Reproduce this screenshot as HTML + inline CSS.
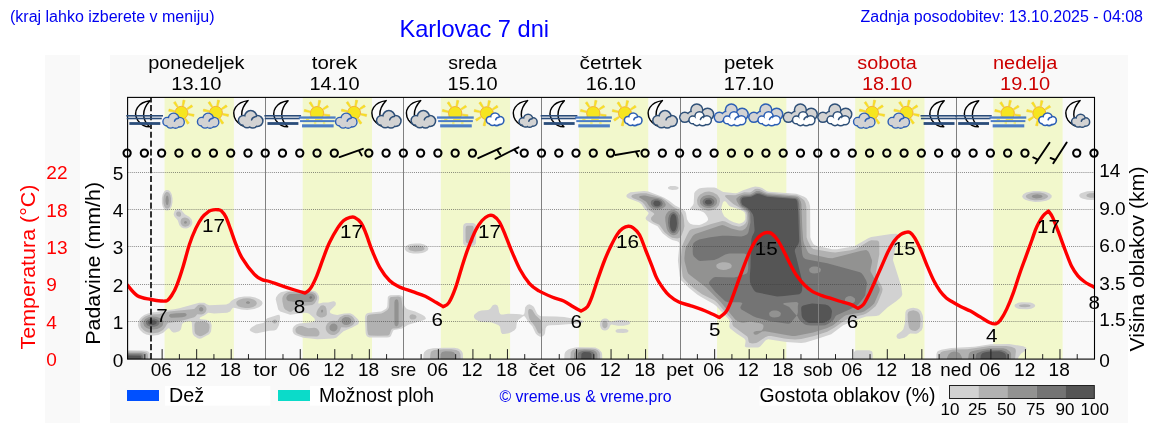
<!DOCTYPE html>
<html lang="sl"><head><meta charset="utf-8"><title>Karlovac 7 dni</title>
<style>
html,body{margin:0;padding:0;background:#fff;}
body{width:1152px;height:443px;overflow:hidden;font-family:"Liberation Sans",sans-serif;}
svg{display:block;will-change:transform;font-family:"Liberation Sans",sans-serif;}
svg text{font-family:"Liberation Sans",sans-serif;}
</style></head><body>
<svg width="1152" height="443" viewBox="0 0 1152 443">
<rect width="1152" height="443" fill="#fff"/>
<rect x="45" y="55" width="35" height="368" fill="#f9f9f9"/>
<rect x="110" y="55" width="1018" height="368" fill="#f9f9f9"/>
<rect x="164.55" y="97.4" width="69.3" height="261.70000000000005" fill="#f2f8cc"/>
<rect x="302.68" y="97.4" width="69.3" height="261.70000000000005" fill="#f2f8cc"/>
<rect x="440.81" y="97.4" width="69.3" height="261.70000000000005" fill="#f2f8cc"/>
<rect x="578.94" y="97.4" width="69.3" height="261.70000000000005" fill="#f2f8cc"/>
<rect x="717.06" y="97.4" width="69.3" height="261.70000000000005" fill="#f2f8cc"/>
<rect x="855.19" y="97.4" width="69.3" height="261.70000000000005" fill="#f2f8cc"/>
<rect x="993.32" y="97.4" width="69.3" height="261.70000000000005" fill="#f2f8cc"/>
<clipPath id="pc"><rect x="127.6" y="97.4" width="966.9" height="261.7"/></clipPath>
<g clip-path="url(#pc)">
<path d="M670.2,186.1 675.2,186.0 678.2,187.0 678.7,188.2 677.6,189.2 676.2,189.7 672.2,190.0 669.0,189.3 667.9,188.2 668.0,187.2 669.8,186.2ZM752.2,187.2 755.2,186.4 759.2,186.9 762.2,188.0 767.0,191.2 769.2,191.7 796.2,193.8 799.2,194.7 804.2,196.8 806.5,198.2 809.0,202.2 810.1,206.2 810.3,237.2 811.2,240.1 813.2,243.8 814.2,244.8 816.2,245.8 832.2,249.3 837.0,249.2 854.3,246.2 868.2,238.3 871.2,237.1 891.2,234.1 896.2,233.8 897.7,234.2 898.3,235.2 898.3,237.2 893.3,257.2 893.0,260.2 901.2,286.0 902.3,294.2 901.6,296.2 899.8,298.2 896.2,301.3 887.7,307.2 879.1,315.2 876.2,316.1 866.2,316.4 860.8,318.2 843.2,325.2 831.2,334.2 816.2,339.3 805.3,342.4 801.2,343.0 786.2,342.0 768.2,339.2 766.2,339.9 765.2,340.8 760.2,346.6 758.2,347.4 756.2,347.6 748.2,347.6 745.8,347.2 744.8,346.2 745.5,342.2 745.5,340.2 744.2,338.5 736.2,333.2 729.9,328.2 729.2,326.2 729.8,322.2 729.2,319.8 716.2,306.1 713.2,303.7 701.2,297.0 697.2,294.4 689.2,288.1 681.1,280.2 680.2,278.2 679.7,276.2 677.9,260.2 679.5,244.2 678.9,242.2 677.2,241.3 672.2,240.0 668.2,237.7 662.6,233.2 657.6,226.2 651.3,223.3 646.7,220.2 645.9,219.2 645.6,218.2 645.9,217.2 648.2,214.2 648.5,213.2 648.2,212.3 644.0,208.2 641.5,204.2 638.9,202.2 628.3,198.2 626.9,197.2 626.4,196.2 626.5,195.2 627.2,194.2 630.4,192.2 644.2,191.0 648.2,191.6 660.2,195.9 664.2,197.7 669.2,200.7 675.2,205.5 682.5,209.2 685.2,211.2 686.0,213.2 687.0,219.2 688.7,222.2 690.2,223.7 693.2,224.7 699.2,224.9 701.7,224.2 706.2,221.9 707.9,220.2 708.1,219.2 707.5,217.2 706.3,215.2 704.8,213.2 703.2,211.9 699.2,210.5 692.2,209.9 690.5,209.2 690.2,208.2 692.9,205.2 693.7,203.2 694.2,193.2 695.2,191.5 697.2,189.8 699.2,188.6 701.2,188.0 707.2,187.4 714.2,187.4 716.2,187.9 721.3,191.1 723.2,191.9 735.2,193.3 737.2,192.9 743.2,190.2 752.0,187.3ZM724.1,201.2 723.2,202.0 722.6,203.2 721.2,208.2 722.2,212.2 724.2,216.2 729.5,220.2 733.7,222.2 739.2,223.7 742.2,222.7 744.2,221.2 745.3,219.2 745.3,214.2 744.5,212.2 743.2,211.2 739.1,209.2 730.2,206.5 728.6,205.2 726.2,202.0 725.2,201.2 724.2,201.2ZM166.2,190.0 168.2,190.0 170.2,191.5 171.7,194.2 172.5,198.2 172.5,202.2 171.7,206.2 170.2,209.1 168.2,210.6 166.2,210.6 164.2,209.2 162.6,206.2 161.9,203.2 161.9,198.2 162.7,194.2 164.2,191.4 165.7,190.2ZM1033.2,191.1 1039.2,191.0 1045.2,191.8 1049.2,193.3 1051.6,195.2 1051.7,197.2 1049.7,199.2 1046.2,200.7 1040.2,201.7 1035.2,201.9 1029.2,201.0 1025.2,199.7 1023.0,198.2 1022.1,196.2 1023.3,194.2 1026.2,192.6 1032.4,191.2ZM1087.2,191.2 1093.2,190.9 1099.2,191.5 1099.2,199.5 1091.2,200.1 1087.2,199.8 1082.2,198.4 1080.2,197.4 1079.4,196.2 1079.2,195.2 1079.7,194.2 1080.9,193.2 1087.2,191.2ZM177.2,209.2 179.2,209.1 181.2,209.9 184.9,214.2 189.2,216.7 191.6,219.2 192.4,222.2 192.1,224.2 190.9,226.2 188.2,228.1 186.2,228.6 183.2,228.3 181.2,227.3 179.4,225.2 177.7,220.2 174.3,216.2 173.6,214.2 174.5,211.2 175.3,210.2 177.2,209.2ZM466.2,223.1 473.2,223.1 475.2,224.1 475.9,225.2 476.2,229.2 476.0,243.2 474.8,245.2 472.2,246.0 465.2,245.7 464.2,245.2 463.1,243.2 463.1,226.2 463.8,224.2 465.4,223.2ZM410.2,244.1 415.2,243.4 420.2,243.6 424.2,244.5 427.2,246.2 428.4,248.2 427.8,250.2 425.2,252.1 422.2,253.0 418.2,253.6 413.2,253.5 409.2,252.7 406.3,251.2 404.7,249.2 404.9,247.2 407.1,245.2 409.6,244.2ZM297.2,290.2 311.2,290.4 315.2,291.3 317.5,293.2 319.0,296.2 319.2,298.2 318.2,303.3 319.2,303.5 323.2,302.4 328.2,302.4 333.2,301.3 334.2,301.3 335.5,302.2 335.9,303.2 335.6,305.2 330.4,310.2 329.9,311.2 329.9,312.2 330.7,313.2 333.2,314.3 337.2,315.1 344.2,313.5 350.2,313.3 353.2,314.7 358.2,319.5 359.0,322.2 358.2,324.2 352.2,327.6 343.5,331.2 336.2,337.7 333.2,338.6 324.2,339.1 317.2,339.2 303.2,337.8 296.0,335.2 294.3,334.2 293.4,333.2 292.6,331.2 292.7,328.2 294.0,326.2 296.2,324.6 299.2,323.4 311.2,322.3 314.3,321.2 315.0,320.2 314.3,318.2 309.2,313.7 307.2,312.9 305.2,312.8 290.2,314.7 280.2,311.5 278.2,309.4 275.7,299.2 276.1,297.2 278.2,294.2 280.9,292.2 287.2,290.7 296.7,290.2ZM390.2,295.2 399.2,295.0 402.2,295.9 403.4,298.2 404.2,305.5 406.0,308.2 408.2,309.4 415.2,311.6 422.2,314.8 424.6,316.2 425.9,318.2 425.5,319.2 423.4,320.2 408.2,324.7 402.2,328.6 394.2,330.0 393.2,330.6 390.8,336.2 389.2,337.2 387.2,337.5 369.2,337.4 366.9,336.2 365.9,334.2 365.6,332.2 364.9,318.2 365.1,316.2 365.9,314.2 367.2,313.3 369.2,312.7 381.2,311.6 385.4,309.2 386.5,308.2 387.3,306.2 387.8,297.2 388.4,296.2 390.1,295.2ZM239.2,297.2 244.2,296.4 250.2,296.5 255.2,297.6 259.2,299.2 261.9,301.2 262.6,303.2 261.7,305.2 259.0,307.2 254.2,309.1 247.2,310.1 241.2,309.6 235.2,308.0 233.2,307.8 232.2,308.5 230.2,311.6 227.2,312.7 214.2,313.6 208.2,312.8 204.2,315.4 200.4,317.2 199.4,318.2 200.2,319.0 201.2,319.2 206.2,319.7 209.2,321.0 210.7,322.2 211.7,325.2 211.1,331.2 210.2,333.1 209.1,334.2 201.2,338.6 199.2,338.7 197.2,338.0 194.2,336.0 192.9,334.2 192.4,332.2 191.8,322.2 191.2,321.2 190.2,321.0 188.0,321.2 184.3,322.3 182.7,323.2 182.1,324.2 181.0,329.2 179.2,331.2 175.2,332.4 173.2,332.4 171.5,331.2 169.2,328.3 168.2,328.2 163.2,332.7 158.2,334.9 152.2,335.7 146.2,334.4 143.2,332.9 140.2,330.3 138.9,328.2 137.9,325.2 138.2,322.2 139.5,319.2 141.2,317.2 144.2,315.0 147.2,313.7 151.2,312.6 157.2,312.1 162.2,310.8 174.2,309.2 179.3,308.2 199.2,302.8 204.2,302.8 207.2,304.6 209.3,305.2 226.2,304.5 229.2,303.3 231.2,301.0 233.8,299.2 238.9,297.2ZM1022.2,302.2 1030.2,302.5 1032.7,303.2 1034.4,304.2 1035.1,305.2 1035.1,306.2 1034.2,307.3 1031.2,308.7 1027.2,309.3 1019.2,308.9 1017.0,308.2 1015.2,307.2 1014.6,306.2 1014.5,305.2 1015.2,304.2 1018.2,302.8 1021.3,302.2ZM493.2,304.9 495.2,304.5 497.3,305.2 498.3,307.2 499.2,312.3 500.2,314.0 501.2,314.5 503.2,314.6 508.2,313.8 516.2,313.9 519.7,314.2 523.2,315.1 524.5,313.2 525.2,307.2 527.2,304.9 529.2,304.3 531.2,305.0 533.2,306.3 534.2,307.5 536.9,313.2 538.2,314.8 540.2,316.0 542.2,316.3 556.2,316.4 564.2,317.0 582.2,320.2 583.5,321.2 583.3,322.2 580.5,323.2 558.2,325.0 550.2,325.2 548.2,325.5 546.8,326.2 545.6,328.2 545.0,333.2 544.1,335.2 542.2,336.6 540.2,336.7 539.2,336.3 537.2,335.0 535.6,333.2 532.3,326.2 528.6,322.2 525.2,317.0 524.2,316.1 523.2,316.3 518.2,319.9 517.2,321.2 516.7,323.2 516.2,328.1 514.5,330.2 511.2,332.3 508.7,333.2 504.2,334.1 502.2,333.9 501.0,332.2 500.1,327.2 499.6,326.2 498.2,324.9 491.2,322.3 482.2,322.1 479.2,321.6 475.2,319.3 473.9,317.2 474.0,315.2 474.7,314.2 478.2,311.4 481.2,310.5 488.2,310.1 490.2,308.8 492.7,305.2ZM910.2,308.2 913.2,307.8 917.2,308.5 919.2,309.4 921.0,311.2 922.7,315.2 923.1,317.2 922.8,327.2 921.7,330.2 918.2,333.1 916.2,333.8 910.2,333.5 908.8,334.2 906.8,336.2 904.2,337.8 899.2,338.9 897.2,338.3 896.4,336.2 897.3,334.2 901.5,331.2 903.3,329.2 904.9,323.2 905.4,312.2 906.2,310.5 907.2,309.5 910.2,308.2ZM277.2,315.0 279.2,314.8 279.6,315.2 280.1,317.2 279.9,320.2 278.9,325.2 277.4,328.2 276.2,329.8 274.2,330.5 269.2,330.8 257.2,333.2 255.2,333.2 253.2,332.6 250.7,331.2 249.8,330.2 249.8,329.2 251.8,327.2 256.2,324.6 263.2,323.0 264.4,322.2 266.0,319.2 267.3,318.2 276.7,315.2ZM602.2,319.2 604.2,318.4 606.2,318.5 607.7,319.2 610.2,321.6 611.2,321.8 614.2,320.7 619.2,319.9 623.2,319.9 628.2,320.8 630.1,322.2 630.2,323.2 629.4,324.2 627.2,325.1 623.2,325.8 618.2,325.8 611.2,324.4 610.2,325.5 609.0,328.2 607.2,330.0 605.2,330.6 603.2,330.3 602.2,329.8 600.9,328.2 599.9,325.2 600.0,323.2 600.6,321.2 602.2,319.2ZM617.2,329.2 621.2,328.7 626.2,329.0 628.3,330.2 628.5,331.2 627.2,332.5 623.2,333.1 617.2,332.7 616.2,332.2 615.5,331.2 615.7,330.2 617.1,329.2ZM991.2,344.2 1009.2,344.0 1023.2,346.2 1025.5,347.2 1026.4,348.2 1026.5,349.2 1026.0,350.2 1021.2,353.6 1018.5,357.2 1017.6,360.2 1017.0,365.2 971.2,365.2 936.2,365.2 936.4,354.2 937.2,351.7 938.2,350.9 941.2,349.7 951.2,348.0 974.2,346.8 990.8,344.2ZM580.2,347.2 595.2,347.5 599.0,349.2 601.6,352.2 602.1,354.2 602.5,365.2 586.2,365.2 563.9,365.2 564.5,354.2 565.1,352.2 566.0,351.2 568.2,349.6 570.2,348.7 575.2,347.6 580.1,347.2ZM433.2,348.2 444.2,347.7 454.2,347.8 458.2,348.5 460.2,349.7 461.8,351.2 462.8,353.2 463.4,365.2 453.2,365.2 422.9,365.2 423.5,354.2 424.1,352.2 426.2,350.2 428.1,349.2 433.1,348.2ZM857.2,350.2 869.2,350.2 871.9,351.2 872.4,352.3 872.7,354.2 872.7,365.2 869.2,365.2 853.7,365.2 854.0,352.2 855.2,350.7 856.9,350.2ZM121.2,350.3 142.2,350.4 146.2,350.7 148.2,351.4 149.8,353.2 150.1,355.2 150.1,362.2 149.1,365.2 120.2,365.2 120.3,350.3Z" fill="#d2d2d2" fill-rule="evenodd"/>
<path d="M755.2,188.9 757.2,188.7 759.2,189.0 761.2,189.7 765.6,192.2 768.2,193.0 797.2,195.5 799.2,196.4 804.2,200.2 805.6,203.2 806.4,207.2 806.6,237.2 807.6,240.2 811.1,247.2 813.3,249.1 830.2,252.1 835.2,252.5 850.7,250.2 854.8,249.2 858.9,247.2 868.6,241.2 871.2,240.3 877.2,240.4 878.6,241.2 879.2,242.8 879.3,254.2 876.2,271.2 875.9,274.2 877.2,278.2 881.7,286.2 882.6,289.2 882.0,292.2 877.9,302.2 875.5,306.2 869.2,311.5 866.2,313.6 863.2,314.7 851.9,317.2 849.0,318.2 842.1,322.2 834.2,327.8 827.2,331.7 814.2,335.9 801.2,339.1 795.2,339.5 788.2,339.0 784.2,338.6 771.2,336.1 768.2,335.9 765.2,337.2 758.2,342.0 756.2,343.0 752.2,343.4 749.2,342.7 748.5,341.2 748.1,338.2 747.2,336.6 733.3,326.2 732.3,324.2 732.2,321.2 731.4,319.2 717.2,302.7 714.2,300.3 702.1,294.2 693.9,288.2 690.2,285.3 685.1,280.2 683.4,278.2 682.6,276.2 680.7,260.2 681.7,249.2 682.5,245.2 683.7,242.2 686.9,235.2 689.2,231.0 690.2,230.1 692.2,229.1 701.2,227.3 711.2,223.9 722.2,221.0 725.2,221.6 732.2,224.9 738.2,226.5 740.2,226.6 743.4,225.2 745.2,223.8 746.6,221.2 746.9,215.2 746.3,212.2 744.1,210.2 733.2,204.0 725.7,197.2 725.1,196.2 725.2,195.6 725.4,195.2 727.2,194.9 735.2,195.3 744.2,192.2 750.2,192.4 752.2,191.3 754.7,189.2ZM166.2,192.1 167.2,191.9 168.2,192.2 169.2,193.1 170.4,195.2 171.0,198.2 171.0,202.2 170.4,205.2 169.5,207.2 168.2,208.5 166.2,208.6 165.2,207.8 164.2,206.1 163.5,203.2 163.3,200.2 163.7,196.2 165.0,193.2 166.1,192.2ZM704.2,192.2 706.2,191.7 709.2,191.5 713.2,192.4 717.2,194.8 719.6,198.2 720.0,201.2 718.9,205.2 716.2,208.3 714.2,209.5 711.9,210.2 708.2,210.7 704.2,209.8 699.6,207.2 697.5,204.2 697.0,200.2 697.9,197.2 700.2,194.4 704.2,192.2ZM641.2,193.2 646.2,193.2 661.2,197.6 665.5,200.3 673.2,206.7 679.6,210.2 681.6,212.2 683.1,215.2 683.9,219.2 684.4,226.2 683.5,230.2 681.6,235.2 680.2,237.5 679.2,238.1 677.2,238.4 672.2,237.7 669.2,236.1 664.6,232.2 659.2,224.7 653.2,222.0 651.4,220.2 651.0,219.3 651.2,217.5 654.3,214.2 653.9,213.2 647.2,208.7 644.2,204.2 642.3,202.2 640.2,201.0 633.3,198.2 631.9,197.2 631.3,196.2 632.2,195.0 635.2,194.0 640.8,193.2ZM1031.2,193.1 1035.2,192.5 1040.2,192.6 1044.2,193.5 1047.2,194.9 1048.2,196.2 1047.2,197.8 1044.3,199.2 1041.2,200.0 1037.2,200.3 1034.2,200.2 1030.2,199.4 1027.3,198.2 1026.1,197.2 1025.8,196.2 1026.3,195.2 1027.8,194.2 1030.7,193.2ZM1090.2,193.2 1094.2,193.1 1099.2,193.7 1099.2,197.3 1096.2,197.7 1090.2,197.8 1087.2,196.8 1086.6,196.2 1086.4,195.2 1087.1,194.2 1089.7,193.2ZM177.2,211.8 179.2,211.6 180.2,212.1 181.0,213.2 181.1,215.2 180.2,216.4 179.2,216.8 177.4,216.2 176.4,215.2 176.1,213.3 176.7,212.2ZM182.2,218.2 184.2,217.5 186.2,217.7 188.2,218.5 189.2,219.4 190.2,221.2 190.2,223.2 189.2,225.1 188.2,226.0 185.2,226.8 183.2,226.3 181.9,225.2 180.7,223.2 180.6,221.2 181.2,219.2 182.2,218.2ZM467.2,225.8 472.2,225.8 473.1,226.2 473.6,227.2 473.8,240.2 473.4,242.2 472.3,243.3 467.2,243.3 466.0,242.2 465.6,240.2 465.5,229.2 465.8,227.2 466.3,226.2ZM411.2,246.2 414.2,245.6 418.2,245.6 421.2,246.0 423.2,246.8 424.6,248.2 424.4,249.2 423.3,250.2 421.2,251.0 415.2,251.4 410.3,250.5 408.6,249.2 408.4,248.2 409.0,247.2 410.9,246.2ZM288.2,292.1 298.2,291.7 311.2,291.8 313.2,292.2 315.2,293.2 316.7,295.2 317.3,297.2 317.0,299.2 315.2,302.4 314.2,303.7 312.2,304.9 305.2,305.8 302.2,306.3 296.2,308.0 291.2,311.8 289.2,311.8 285.2,309.4 284.2,308.2 283.4,306.2 282.4,301.2 282.3,298.2 282.9,296.2 284.4,294.2 286.2,292.9 287.8,292.2ZM391.2,297.0 398.2,296.6 400.2,297.1 401.4,298.2 402.9,310.2 402.8,325.2 401.2,326.9 399.2,327.7 397.2,328.3 393.2,328.4 392.2,328.8 391.0,330.2 389.7,334.2 388.2,335.5 378.2,335.7 370.2,335.6 369.0,335.2 368.0,334.2 367.3,330.2 366.8,319.2 367.1,316.2 368.2,315.0 370.2,314.5 381.2,313.5 383.2,312.8 387.1,310.2 388.2,309.0 389.1,307.2 389.4,299.2 389.7,298.2 390.5,297.2ZM247.2,298.2 250.2,298.5 254.2,299.8 256.1,301.2 256.9,303.2 256.0,305.2 253.2,306.9 249.2,307.9 245.2,308.0 241.2,307.3 238.2,306.2 236.4,304.2 236.3,302.2 237.2,300.9 239.2,299.7 243.2,298.6 246.9,298.2ZM1024.2,304.2 1028.2,304.4 1030.4,305.2 1030.4,306.2 1029.2,306.8 1025.2,307.2 1021.2,307.0 1019.2,306.2 1019.1,305.2 1020.2,304.7 1024.2,304.2ZM198.2,305.1 200.2,304.4 203.2,304.7 205.2,306.0 206.1,307.2 206.6,309.2 206.0,311.2 205.2,312.4 203.2,313.9 201.2,314.5 197.2,314.3 195.6,316.2 194.2,317.2 179.2,321.4 168.2,323.0 167.2,323.7 165.2,327.3 163.2,329.7 161.2,331.1 158.2,332.4 153.2,333.2 148.2,332.5 145.2,331.2 143.2,329.8 141.2,327.4 140.4,325.2 140.4,322.2 141.2,320.2 142.8,318.2 145.2,316.4 148.2,315.2 151.2,314.4 159.2,314.3 162.2,312.9 169.2,311.5 194.2,309.1 197.9,305.2ZM321.2,305.6 323.2,305.3 325.3,306.2 326.3,308.2 326.8,311.2 326.9,314.2 326.5,315.2 325.2,316.5 322.2,317.6 320.3,317.4 318.2,316.6 316.6,315.2 316.3,314.2 316.6,312.2 317.9,309.2 320.3,306.2ZM529.2,309.1 530.2,308.9 532.2,309.8 535.6,315.2 540.2,319.5 541.5,321.2 542.3,330.2 541.9,332.2 541.2,333.3 540.2,333.6 539.2,333.4 537.8,332.2 534.9,326.2 529.5,319.2 528.7,316.2 528.1,312.3 528.3,310.2 529.0,309.2ZM910.2,310.9 913.2,310.3 916.2,310.9 918.2,312.0 919.7,314.2 920.6,319.2 920.1,326.2 919.4,328.2 917.2,330.2 915.2,331.0 912.2,330.5 910.1,329.2 908.9,327.2 907.9,321.2 907.6,314.2 908.2,312.2 909.4,311.2ZM412.2,314.2 415.2,314.9 416.5,316.2 416.2,318.2 414.2,319.6 411.2,319.5 409.7,318.2 409.5,316.2 410.2,315.1 412.0,314.2ZM344.2,315.1 348.2,314.8 351.2,315.8 353.0,317.2 354.4,319.2 354.8,320.2 354.7,322.2 353.5,324.2 352.4,325.2 349.2,327.0 346.2,327.6 341.2,327.3 339.5,331.2 338.2,332.7 336.2,334.2 334.2,334.9 332.2,334.9 330.2,334.4 328.2,333.2 326.6,331.2 325.8,329.2 325.7,327.2 326.3,325.2 327.5,323.2 330.2,321.4 333.2,320.7 337.2,321.0 339.9,317.2 343.7,315.2ZM273.2,320.1 275.2,319.6 276.4,320.2 276.8,321.2 276.7,322.2 275.7,323.2 274.2,323.5 273.2,323.0 272.6,322.2 272.5,321.2 273.0,320.2ZM603.2,321.2 604.2,320.7 606.2,321.0 607.6,323.2 607.4,326.2 606.2,327.8 605.3,328.2 604.2,328.2 603.2,327.6 602.4,326.2 602.2,323.2 603.2,321.2ZM196.2,322.0 204.2,321.4 207.2,322.4 209.2,324.2 209.6,327.2 208.8,331.2 208.1,332.2 205.2,334.2 202.2,335.8 200.2,336.3 197.2,335.3 195.2,333.5 194.6,331.2 194.4,325.2 194.7,323.2 195.6,322.2ZM299.2,326.0 302.2,326.1 308.2,328.2 314.2,327.8 316.5,328.2 318.2,329.7 319.5,332.2 319.4,334.2 318.9,335.2 317.2,336.4 305.2,336.2 301.5,335.2 297.2,333.4 296.0,332.2 295.6,331.2 295.4,329.2 296.2,327.7 298.4,326.2ZM989.2,346.1 1006.2,345.9 1011.2,346.8 1014.8,348.2 1015.6,349.2 1015.9,351.2 1014.4,365.2 964.2,365.2 939.2,365.2 939.7,354.2 940.9,352.2 943.2,351.3 953.2,349.4 967.2,349.2 988.3,346.2ZM444.2,349.2 451.2,349.2 456.2,349.9 459.2,351.6 460.5,354.2 460.7,365.2 446.2,365.2 429.6,365.2 430.4,354.2 430.9,352.2 431.6,351.2 434.2,350.1 443.6,349.2ZM575.2,349.1 580.2,348.4 591.2,348.4 595.2,348.9 597.8,350.2 599.5,352.2 600.1,354.2 600.3,365.2 595.2,365.2 569.9,365.2 570.8,352.2 572.4,350.2 574.6,349.2ZM121.2,351.5 141.2,351.6 144.2,351.9 146.2,352.6 147.2,353.2 147.8,354.2 148.1,358.2 147.9,362.2 146.2,364.9 145.9,365.2 120.2,365.2 120.2,351.5Z" fill="#b1b1b1" fill-rule="evenodd"/>
<path d="M756.2,191.1 759.2,191.1 767.2,194.3 795.2,196.6 797.2,197.0 799.0,198.2 800.7,201.2 801.4,204.2 802.3,228.2 803.2,240.2 804.2,244.0 807.0,250.2 808.2,252.4 810.2,254.0 828.2,257.9 832.2,258.3 861.2,250.8 866.2,250.1 868.2,251.2 869.4,253.2 872.0,260.2 872.0,262.2 870.5,269.2 870.5,271.2 879.6,288.2 879.7,290.2 879.2,291.9 874.2,303.5 870.2,307.2 864.2,311.5 861.2,312.5 849.2,314.4 846.0,315.2 844.1,316.2 833.0,325.2 827.2,327.9 817.2,331.3 813.2,332.4 795.2,336.0 792.2,336.0 786.2,335.0 765.2,331.2 762.2,331.5 757.2,334.6 755.2,334.8 754.2,334.3 753.5,333.2 753.6,332.2 754.2,331.7 756.2,331.1 761.2,330.7 762.2,330.1 763.2,328.2 763.5,326.2 763.3,325.2 762.5,324.2 760.2,323.3 751.2,321.7 749.2,321.7 743.2,322.7 741.2,322.6 738.3,321.5 735.2,319.5 720.8,302.2 706.2,287.5 690.2,275.3 688.2,273.4 687.2,271.2 684.6,261.2 684.4,258.2 684.9,252.2 685.9,247.2 692.2,236.8 693.5,235.2 695.2,233.9 718.0,226.2 722.2,225.1 724.2,225.5 731.2,228.6 739.2,230.6 742.2,230.4 745.2,228.8 747.0,226.2 748.3,222.2 748.6,218.2 748.3,213.2 747.4,211.2 746.4,210.2 741.2,207.2 739.2,205.2 736.8,201.2 736.3,199.2 736.6,198.2 739.1,196.2 741.2,195.2 744.2,194.4 750.2,194.4 752.2,193.6 756.0,191.2ZM722.2,262.2 719.2,262.9 716.9,264.2 716.3,265.3 716.5,267.2 718.2,268.7 720.2,269.4 723.2,269.9 726.2,269.7 730.5,268.2 731.5,267.2 731.7,265.2 730.2,263.6 728.2,262.7 725.2,262.2 722.2,262.2ZM706.2,195.2 709.2,195.0 713.2,196.1 716.0,198.2 717.0,200.2 716.9,203.2 715.6,205.2 713.2,207.0 710.2,208.0 707.2,208.1 704.2,207.3 701.4,205.2 700.1,203.2 700.0,200.2 701.0,198.2 703.2,196.3 706.2,195.2ZM1033.2,195.0 1037.2,194.3 1041.2,195.1 1042.6,196.2 1042.1,197.2 1040.2,198.1 1036.2,198.4 1033.2,197.7 1032.2,197.2 1031.7,196.2 1032.7,195.2ZM167.2,195.6 168.2,196.6 168.8,200.2 168.3,204.2 167.2,205.3 166.1,204.2 165.5,201.2 165.7,198.2 166.3,196.2ZM640.2,196.0 643.2,195.5 645.2,195.6 651.2,197.0 658.2,198.0 661.2,199.1 664.0,201.2 665.8,204.2 665.4,206.2 662.6,208.2 659.2,209.6 657.2,209.8 654.2,209.5 652.2,208.7 649.2,206.3 646.2,201.7 639.0,197.2 639.6,196.2ZM671.2,210.2 674.2,210.0 676.2,210.9 678.0,212.2 679.9,215.2 680.7,219.2 680.8,226.2 679.6,230.2 677.2,234.0 675.2,235.1 673.7,235.2 672.2,235.1 670.2,234.0 667.8,231.2 666.6,228.2 665.4,221.2 665.2,217.2 666.1,214.2 668.2,211.6 671.0,210.2ZM185.2,221.0 186.4,221.2 187.0,222.2 186.7,223.2 185.2,223.8 184.2,223.2 184.0,222.2 184.7,221.2ZM290.2,294.1 310.2,293.5 312.2,293.8 314.3,295.2 315.1,297.2 315.0,298.2 313.2,300.9 311.2,301.9 295.2,301.9 288.2,300.9 287.2,300.3 286.5,299.2 286.4,297.2 287.6,295.2 289.3,294.2ZM396.2,299.2 397.2,299.4 398.1,300.2 398.6,303.2 398.6,323.2 398.1,325.2 396.7,326.2 396.0,326.2 394.8,325.2 394.4,323.2 394.4,302.2 394.9,300.2 396.2,299.3ZM247.3,301.2 248.6,301.2 250.1,302.2 249.9,303.2 248.2,303.9 246.1,303.2 245.9,302.2 247.2,301.2ZM201.2,307.1 202.2,307.4 203.1,308.2 203.4,309.3 203.2,310.2 202.3,311.2 201.2,311.5 200.1,311.2 199.1,310.2 199.2,308.2 200.3,307.2ZM321.2,310.2 322.2,309.6 322.9,310.2 323.1,311.2 322.2,312.8 321.2,312.2 321.2,310.2ZM177.2,313.2 184.2,313.0 185.6,313.2 186.6,314.2 186.6,315.2 185.2,316.5 182.2,317.2 178.2,317.4 171.2,317.7 170.0,317.2 169.1,316.2 169.0,315.2 170.2,313.9 176.4,313.2ZM149.2,317.0 153.2,316.5 156.2,316.8 160.5,318.2 162.7,320.2 163.4,322.2 162.8,325.2 161.0,327.2 157.2,329.0 153.2,329.6 149.2,329.0 146.2,327.8 144.2,325.9 143.3,323.2 143.6,321.2 145.2,319.1 148.6,317.2ZM345.2,317.0 348.5,317.2 350.2,318.2 351.2,319.8 351.5,321.2 351.3,322.3 350.2,323.7 348.2,324.8 346.2,325.1 344.2,324.7 342.3,323.2 341.7,322.2 341.6,320.2 342.0,319.2 342.8,318.2 344.6,317.2ZM331.2,324.2 332.2,323.7 334.2,323.6 335.9,324.2 336.9,325.2 337.4,326.2 337.5,328.2 336.4,330.2 335.2,331.1 334.2,331.5 332.2,331.3 330.5,330.2 329.8,329.2 329.5,328.2 329.6,326.2 331.2,324.2ZM989.2,348.2 1003.2,348.3 1006.2,349.1 1009.2,350.9 1010.5,352.2 1011.1,354.2 1011.1,365.2 988.2,365.2 967.2,365.2 968.8,354.2 970.0,352.2 972.2,351.2 976.3,350.2 988.6,348.2ZM578.2,350.1 584.2,349.6 590.2,349.7 593.8,350.2 596.2,351.7 597.4,354.2 597.5,365.2 593.2,365.2 573.6,365.2 574.2,353.2 575.5,351.2 577.8,350.2ZM442.2,351.9 445.2,351.3 451.2,351.4 453.8,352.2 454.8,353.2 455.4,355.2 455.4,365.2 453.2,365.2 440.1,365.2 440.7,354.2 441.7,352.2ZM951.2,352.2 954.2,351.5 957.2,351.9 959.6,353.2 960.9,355.2 961.8,357.2 962.3,360.2 961.9,365.2 958.2,365.2 947.1,365.2 946.7,361.2 947.2,357.2 948.7,354.2 951.1,352.2ZM121.2,352.9 140.2,352.9 143.2,353.5 144.3,354.2 144.8,355.2 145.1,359.2 144.9,362.2 143.2,364.6 142.3,365.2 120.2,365.2 120.2,352.9Z" fill="#929291" fill-rule="evenodd"/>
<path d="M756.3,192.9 759.2,192.8 767.2,195.6 795.3,197.9 797.2,198.7 798.3,200.2 799.2,204.2 800.8,239.2 802.0,252.2 802.5,255.2 803.2,257.3 805.2,259.0 807.2,259.6 827.2,263.2 860.0,272.2 861.6,273.2 863.2,275.3 866.2,280.4 867.0,283.2 865.2,295.2 863.3,298.2 858.2,304.4 855.8,306.2 850.0,309.2 836.6,315.2 835.5,316.2 833.9,319.2 832.2,321.2 827.5,324.2 825.2,325.2 821.2,325.6 811.2,325.6 806.2,325.1 804.2,324.0 800.2,320.8 799.0,319.2 797.2,315.8 796.2,315.6 796.2,316.2 791.2,322.3 790.2,323.2 788.2,323.8 770.2,321.3 756.2,317.5 753.3,316.2 741.0,309.2 740.3,307.2 742.4,303.2 741.2,302.5 739.2,302.2 728.2,302.3 725.2,301.3 715.2,291.8 710.2,285.6 709.0,283.2 709.2,281.9 710.5,280.2 713.2,277.7 715.2,276.9 734.2,277.5 738.2,276.5 746.2,273.7 747.5,272.2 748.2,268.2 748.2,258.2 747.2,255.1 746.2,254.2 744.2,253.5 729.2,253.4 725.2,254.6 718.5,258.2 714.2,260.0 700.2,261.1 698.1,260.2 693.7,256.2 692.9,254.3 692.7,251.2 692.8,245.2 693.4,243.2 695.7,241.2 699.2,239.5 710.2,237.2 722.2,235.8 728.2,235.7 741.2,236.5 744.2,235.8 747.2,234.2 748.4,232.2 750.5,222.2 750.3,214.2 749.7,212.2 748.2,210.2 746.2,208.6 742.2,206.4 741.1,205.2 739.8,202.2 739.6,199.2 740.8,197.2 742.2,196.5 744.2,196.0 750.2,195.8 753.2,194.7 755.6,193.2ZM811.1,267.2 809.7,268.2 809.1,269.2 809.4,271.2 810.2,272.2 812.2,273.2 814.2,273.6 818.2,273.1 819.7,272.2 820.6,271.2 820.9,269.2 820.2,268.2 818.2,266.9 816.2,266.5 813.3,266.5 811.2,267.1ZM848.2,296.2 846.2,297.2 845.4,298.3 844.9,299.2 845.1,301.2 846.2,302.8 848.2,303.8 850.2,304.0 852.2,303.6 854.2,302.3 854.9,301.2 855.1,299.2 854.7,298.2 852.2,296.4 850.2,296.0 848.2,296.2ZM791.7,302.2 784.2,303.0 783.5,303.2 783.3,304.2 789.2,306.9 793.6,312.2 796.3,315.2 797.2,314.9 797.9,312.2 797.8,306.2 798.4,303.2 797.2,302.3 796.2,302.1 792.2,302.2ZM771.1,311.2 769.7,312.2 769.1,313.2 769.4,315.2 770.2,316.2 772.2,317.2 774.2,317.6 778.3,317.1 779.7,316.2 780.6,315.2 780.9,313.2 780.2,312.2 778.2,310.9 776.2,310.5 773.2,310.5 771.2,311.1ZM706.2,198.0 709.2,197.7 711.2,198.1 713.1,199.2 714.0,200.2 714.4,201.2 714.1,203.2 713.2,204.4 711.2,205.7 709.2,206.2 707.2,206.1 705.2,205.5 703.6,204.2 702.9,203.2 702.6,201.2 703.9,199.2 705.5,198.2ZM655.2,199.2 657.3,199.2 660.3,200.2 661.6,201.2 662.7,203.2 662.3,205.2 661.4,206.2 658.2,207.7 656.2,207.8 654.0,207.2 652.4,206.2 651.0,204.2 650.8,202.2 651.2,201.1 652.2,200.1 654.6,199.2ZM673.2,212.1 675.2,212.7 677.4,215.2 678.4,219.2 678.6,223.2 678.2,227.2 677.2,230.2 675.2,232.7 673.2,233.3 671.2,232.4 669.7,230.2 668.5,226.2 668.0,222.2 668.3,218.2 669.2,215.2 670.7,213.2 672.6,212.2ZM310.3,296.2 311.3,296.2 312.2,297.2 311.2,298.7 310.2,298.7 309.5,298.2 309.3,297.2 310.2,296.2ZM149.2,319.1 152.2,318.5 154.2,318.6 156.6,319.2 158.3,320.2 159.2,321.2 159.5,323.2 158.2,325.2 156.2,326.3 154.2,326.7 151.2,326.7 149.2,326.3 147.2,325.2 146.2,323.8 146.0,322.2 147.2,320.3 149.0,319.2ZM346.2,320.6 347.0,321.2 346.2,321.5 346.0,321.2ZM987.2,350.2 1001.2,350.1 1005.0,351.2 1007.6,353.2 1008.4,356.2 1008.5,365.2 996.2,365.2 975.2,365.2 975.8,356.2 976.3,354.2 977.0,353.2 982.0,351.2 987.0,350.2ZM582.2,351.1 586.2,350.8 590.2,351.1 593.2,352.2 594.1,353.2 594.6,355.2 594.7,365.2 589.2,365.2 577.2,365.2 577.3,360.2 578.1,353.2 578.9,352.2 581.5,351.2ZM121.2,354.3 138.2,354.3 141.2,354.6 142.4,355.2 142.9,356.2 143.1,359.2 142.8,362.2 141.2,363.7 138.2,364.1 120.2,364.1 120.3,354.3Z" fill="#747474" fill-rule="evenodd"/>
<path d="M757.2,194.0 760.0,194.2 767.2,196.8 795.2,199.1 796.2,199.6 797.3,201.2 798.2,212.1 799.2,241.2 798.3,244.2 795.0,249.2 794.8,251.2 802.5,282.2 802.1,290.2 801.2,292.8 799.2,294.2 784.2,296.1 777.2,296.6 756.2,292.2 754.8,291.2 753.3,289.2 751.1,285.2 750.0,282.2 749.8,276.2 750.5,267.2 750.8,247.2 751.4,239.2 752.2,236.2 754.2,232.2 754.6,230.2 753.6,217.2 752.8,214.2 749.9,210.2 748.2,208.6 742.2,204.8 741.3,202.2 741.2,200.2 741.9,198.2 743.2,197.6 751.2,196.8 756.3,194.2ZM706.2,200.1 709.2,199.6 711.2,200.5 712.1,202.2 711.7,203.2 710.2,204.3 707.2,204.5 705.3,203.2 704.9,202.2 705.1,201.2 706.0,200.2ZM655.2,200.8 658.2,200.8 660.4,202.2 660.6,204.2 660.0,205.2 658.1,206.2 655.8,206.2 654.0,205.2 653.2,203.2 654.3,201.2ZM673.2,214.0 674.2,214.1 675.2,215.0 676.2,217.1 677.0,223.2 676.7,226.2 675.9,229.2 674.5,231.2 673.2,231.6 672.2,231.2 671.0,229.2 670.2,226.9 669.9,223.2 670.3,218.2 671.2,215.6 672.5,214.2ZM808.2,304.2 812.2,303.6 825.2,304.5 828.2,305.6 830.1,307.2 831.4,309.2 832.0,311.2 831.2,317.2 830.2,319.0 829.2,319.9 824.2,322.7 821.2,323.0 809.2,322.9 807.2,322.2 803.4,319.2 802.1,317.2 801.6,315.2 801.2,309.2 801.3,307.2 802.0,306.2 803.2,305.5 808.1,304.2ZM151.2,320.2 154.2,320.3 156.0,321.2 156.7,322.2 156.6,323.2 155.6,324.2 153.2,325.0 150.2,324.7 149.2,324.2 148.3,323.2 148.2,322.2 148.9,321.2 151.2,320.2ZM584.2,352.1 589.5,352.2 591.0,353.2 591.5,354.2 591.7,365.2 588.2,365.2 580.8,365.2 581.4,354.2 581.8,353.2 583.3,352.2ZM985.2,352.2 990.2,351.4 999.2,351.3 1002.2,351.9 1004.7,353.2 1005.6,354.2 1006.3,356.2 1006.4,365.2 1001.2,365.2 979.8,365.2 980.8,355.2 982.3,353.2 985.0,352.2ZM121.2,355.5 140.2,355.8 141.2,356.4 141.6,359.2 141.5,361.2 140.9,362.2 140.2,362.6 120.2,362.8 120.2,355.5Z" fill="#555555" fill-rule="evenodd"/>
</g>
<line x1="127.6" x2="1094.5" y1="321.5" y2="321.5" stroke="#3a3a3a" stroke-width="1" stroke-dasharray="1 1.06" opacity="0.58"/>
<line x1="127.6" x2="1094.5" y1="284.5" y2="284.5" stroke="#3a3a3a" stroke-width="1" stroke-dasharray="1 1.06" opacity="0.58"/>
<line x1="127.6" x2="1094.5" y1="246.5" y2="246.5" stroke="#3a3a3a" stroke-width="1" stroke-dasharray="1 1.06" opacity="0.58"/>
<line x1="127.6" x2="1094.5" y1="209.5" y2="209.5" stroke="#3a3a3a" stroke-width="1" stroke-dasharray="1 1.06" opacity="0.58"/>
<line x1="127.6" x2="1094.5" y1="172.5" y2="172.5" stroke="#3a3a3a" stroke-width="1" stroke-dasharray="1 1.06" opacity="0.58"/>
<line x1="265.50" x2="265.50" y1="97.4" y2="359.1" stroke="#808080" stroke-width="1"/>
<line x1="403.50" x2="403.50" y1="97.4" y2="359.1" stroke="#808080" stroke-width="1"/>
<line x1="541.50" x2="541.50" y1="97.4" y2="359.1" stroke="#808080" stroke-width="1"/>
<line x1="680.50" x2="680.50" y1="97.4" y2="359.1" stroke="#808080" stroke-width="1"/>
<line x1="818.50" x2="818.50" y1="97.4" y2="359.1" stroke="#808080" stroke-width="1"/>
<line x1="956.50" x2="956.50" y1="97.4" y2="359.1" stroke="#808080" stroke-width="1"/>
<line x1="151" x2="151" y1="359.1" y2="97.4" stroke="#111" stroke-width="1.7" stroke-dasharray="6.2 2.65"/>
<path d="M127.0,284.6C128.7,286.5 133.4,293.2 137.4,295.7C141.4,298.2 147.1,298.6 151.0,299.5C154.9,300.4 158.3,300.9 161.0,301.0C163.7,301.1 165.6,301.4 167.4,300.4C169.2,299.3 170.5,297.2 172.1,294.7C173.7,292.2 175.0,290.0 176.8,285.3C178.7,280.6 181.1,273.2 183.2,266.3C185.3,259.4 187.4,250.5 189.5,244.2C191.6,237.9 193.7,232.9 195.8,228.4C197.9,223.9 200.0,220.2 202.1,217.4C204.2,214.6 206.6,213.0 208.4,211.7C210.2,210.4 211.5,210.1 213.2,209.8C214.9,209.5 217.1,209.6 218.5,209.8C219.9,210.0 220.2,209.8 221.5,211.0C222.8,212.2 224.5,214.2 226.0,217.3C227.5,220.4 228.9,224.8 230.6,229.4C232.3,234.0 234.3,240.3 236.2,245.0C238.1,249.7 239.0,252.9 242.0,257.8C245.0,262.7 250.8,270.6 254.2,274.2C257.6,277.8 259.6,278.4 262.1,279.6C264.7,280.8 266.2,280.4 269.5,281.5C272.8,282.6 277.9,284.5 282.1,285.9C286.3,287.3 290.9,288.8 294.7,290.0C298.5,291.2 303.4,292.6 305.2,293.1C306.1,292.3 308.6,291.3 310.5,288.4C312.4,285.5 314.7,280.8 316.8,275.8C318.9,270.8 321.1,263.9 323.2,258.4C325.3,252.9 327.1,247.6 329.5,242.6C331.9,237.6 335.0,232.1 337.4,228.4C339.8,224.7 341.6,222.3 343.7,220.5C345.8,218.7 348.2,217.9 350.0,217.4C351.8,216.9 352.9,216.5 354.7,217.4C356.5,218.3 359.1,220.1 361.0,222.7C362.9,225.3 363.9,228.6 365.8,233.2C367.7,237.8 369.7,244.7 372.1,250.5C374.5,256.3 377.1,262.9 380.0,267.9C382.9,272.9 386.4,277.4 389.5,280.5C392.6,283.6 395.0,284.9 398.9,286.8C402.8,288.7 408.2,290.0 412.6,291.6C417.0,293.2 421.4,294.5 425.3,296.3C429.2,298.1 433.3,300.9 436.3,302.6C439.3,304.3 442.1,306.0 443.3,306.7C444.2,306.0 446.9,305.7 448.9,302.6C450.9,299.6 453.2,294.2 455.3,288.4C457.4,282.6 459.5,274.5 461.6,267.9C463.7,261.3 465.5,255.2 467.9,248.9C470.3,242.6 473.4,234.7 475.8,230.0C478.2,225.3 480.0,222.9 482.1,220.5C484.2,218.1 486.5,216.6 488.4,215.8C490.2,215.0 491.3,214.8 493.2,215.8C495.1,216.9 497.4,218.7 499.5,222.1C501.6,225.5 503.7,231.3 505.8,236.3C507.9,241.3 509.7,246.6 512.1,252.1C514.5,257.6 517.1,264.2 520.0,269.5C522.9,274.8 526.4,280.1 529.5,283.7C532.6,287.3 535.0,288.6 538.9,290.9C542.8,293.2 548.5,295.6 552.6,297.3C556.7,299.0 560.3,299.4 563.7,301.0C567.1,302.6 570.3,305.0 573.2,306.7C576.1,308.4 579.7,310.4 581.0,311.1C582.1,310.4 585.5,309.2 587.4,306.7C589.2,304.2 590.3,301.2 592.1,296.3C593.9,291.4 596.3,283.4 598.4,277.4C600.5,271.3 602.6,265.3 604.7,260.0C606.8,254.7 608.9,250.1 611.0,245.8C613.1,241.5 615.4,237.0 617.4,234.1C619.4,231.2 620.9,229.7 622.7,228.4C624.5,227.1 626.6,226.3 628.4,226.2C630.1,226.1 631.4,226.4 633.2,227.8C635.1,229.2 637.4,230.9 639.5,234.7C641.6,238.5 643.7,245.2 645.8,250.5C647.9,255.8 650.3,261.7 652.1,266.3C653.9,270.9 654.9,274.6 656.8,278.3C658.6,282.0 661.1,285.5 663.2,288.4C665.3,291.3 666.9,293.4 669.5,295.7C672.1,298.0 675.3,300.3 678.9,302.0C682.5,303.7 687.1,304.5 691.0,305.8C694.9,307.1 698.7,308.3 702.1,309.6C705.5,310.9 708.7,312.4 711.6,313.7C714.5,315.0 718.2,316.9 719.5,317.5C720.5,316.6 724.0,314.6 725.8,312.1C727.6,309.6 728.7,307.1 730.5,302.6C732.3,298.1 734.7,291.1 736.8,285.3C738.9,279.5 741.1,273.4 743.2,267.9C745.3,262.4 747.4,256.7 749.5,252.1C751.6,247.5 753.8,243.3 755.8,240.4C757.8,237.5 759.7,236.0 761.5,234.7C763.3,233.4 765.1,232.7 766.8,232.5C768.5,232.3 769.8,232.2 771.6,233.5C773.5,234.8 775.8,237.3 777.9,240.4C780.0,243.5 782.1,248.1 784.2,252.1C786.3,256.1 788.4,260.8 790.5,264.7C792.6,268.6 794.4,272.4 796.8,275.8C799.2,279.2 802.1,282.7 804.7,285.3C807.3,287.9 809.7,289.9 812.6,291.6C815.5,293.3 819.3,294.6 822.1,295.7C824.9,296.8 826.7,297.0 829.5,297.9C832.3,298.8 835.5,299.9 838.9,301.0C842.3,302.1 846.8,303.0 850.0,304.2C853.2,305.4 856.6,307.6 857.9,308.3C858.9,307.6 861.8,306.5 863.6,304.2C865.4,301.9 867.0,298.6 868.9,294.7C870.8,290.8 873.2,285.2 875.3,280.5C877.4,275.8 879.5,271.0 881.6,266.3C883.7,261.6 885.8,256.3 887.9,252.1C890.0,247.9 892.1,243.9 894.2,241.0C896.3,238.1 898.6,236.1 900.5,234.7C902.4,233.3 903.7,232.9 905.3,232.5C906.9,232.1 908.4,231.6 910.0,232.5C911.6,233.4 912.9,234.9 914.7,237.9C916.5,240.9 918.9,245.8 921.0,250.5C923.1,255.2 925.3,261.3 927.4,266.3C929.5,271.3 931.6,276.4 933.7,280.5C935.8,284.6 937.9,288.0 940.0,290.9C942.1,293.8 944.2,296.0 946.3,297.9C948.4,299.8 950.1,300.5 952.6,302.0C955.1,303.5 958.0,305.2 961.0,306.7C964.0,308.2 967.3,309.4 970.5,311.1C973.7,312.8 976.8,314.9 980.0,316.8C983.2,318.7 986.9,321.3 989.5,322.5C992.1,323.7 994.0,324.2 995.8,323.8C997.6,323.4 998.7,322.5 1000.5,320.0C1002.3,317.5 1004.7,313.4 1006.8,308.9C1008.9,304.4 1011.1,298.9 1013.2,293.1C1015.3,287.3 1017.4,280.2 1019.5,274.2C1021.6,268.1 1023.7,262.6 1025.8,256.8C1027.9,251.0 1030.3,244.5 1032.1,239.5C1033.9,234.5 1034.9,230.8 1036.8,226.8C1038.7,222.9 1041.2,218.4 1043.2,215.8C1045.2,213.2 1047.6,211.9 1048.5,211.1C1049.2,212.2 1050.9,213.7 1052.6,217.4C1054.3,221.1 1056.8,227.7 1058.9,233.2C1061.0,238.7 1063.2,245.0 1065.3,250.5C1067.4,256.0 1069.5,262.1 1071.6,266.3C1073.7,270.5 1075.8,273.3 1077.9,275.8C1080.0,278.3 1082.1,279.9 1084.2,281.5C1086.3,283.1 1088.7,284.3 1090.5,285.3C1092.3,286.3 1094.2,287.3 1095.0,287.7" fill="none" stroke="#ff0000" stroke-width="3.4" stroke-linejoin="round" stroke-linecap="butt" clip-path="url(#pc)"/>
<text x="162.00" y="321.60" font-size="18.06" text-anchor="middle" fill="#000" textLength="11.49" lengthAdjust="spacingAndGlyphs" >7</text>
<text x="213.50" y="231.90" font-size="18.06" text-anchor="middle" fill="#000" textLength="22.98" lengthAdjust="spacingAndGlyphs" >17</text>
<text x="299.50" y="313.30" font-size="18.06" text-anchor="middle" fill="#000" textLength="11.49" lengthAdjust="spacingAndGlyphs" >8</text>
<text x="351.60" y="238.40" font-size="18.06" text-anchor="middle" fill="#000" textLength="22.98" lengthAdjust="spacingAndGlyphs" >17</text>
<text x="437.30" y="325.90" font-size="18.06" text-anchor="middle" fill="#000" textLength="11.49" lengthAdjust="spacingAndGlyphs" >6</text>
<text x="489.40" y="237.50" font-size="18.06" text-anchor="middle" fill="#000" textLength="22.98" lengthAdjust="spacingAndGlyphs" >17</text>
<text x="576.30" y="328.40" font-size="18.06" text-anchor="middle" fill="#000" textLength="11.49" lengthAdjust="spacingAndGlyphs" >6</text>
<text x="627.50" y="247.60" font-size="18.06" text-anchor="middle" fill="#000" textLength="22.98" lengthAdjust="spacingAndGlyphs" >16</text>
<text x="714.70" y="335.90" font-size="18.06" text-anchor="middle" fill="#000" textLength="11.49" lengthAdjust="spacingAndGlyphs" >5</text>
<text x="766.20" y="254.80" font-size="18.06" text-anchor="middle" fill="#000" textLength="22.98" lengthAdjust="spacingAndGlyphs" >15</text>
<text x="852.50" y="327.50" font-size="18.06" text-anchor="middle" fill="#000" textLength="11.49" lengthAdjust="spacingAndGlyphs" >6</text>
<text x="904.30" y="254.80" font-size="18.06" text-anchor="middle" fill="#000" textLength="22.98" lengthAdjust="spacingAndGlyphs" >15</text>
<text x="991.70" y="342.30" font-size="18.06" text-anchor="middle" fill="#000" textLength="11.49" lengthAdjust="spacingAndGlyphs" >4</text>
<text x="1048.50" y="233.40" font-size="18.06" text-anchor="middle" fill="#000" textLength="22.98" lengthAdjust="spacingAndGlyphs" >17</text>
<text x="1094.30" y="309.20" font-size="18.06" text-anchor="middle" fill="#000" textLength="11.49" lengthAdjust="spacingAndGlyphs" >8</text>
<line x1="144.87" x2="144.87" y1="359.1" y2="354.1" stroke="#222" stroke-width="1"/>
<line x1="162.13" x2="162.13" y1="359.1" y2="349.1" stroke="#222" stroke-width="1"/>
<line x1="179.40" x2="179.40" y1="359.1" y2="354.1" stroke="#222" stroke-width="1"/>
<line x1="196.66" x2="196.66" y1="359.1" y2="349.1" stroke="#222" stroke-width="1"/>
<line x1="213.93" x2="213.93" y1="359.1" y2="354.1" stroke="#222" stroke-width="1"/>
<line x1="231.20" x2="231.20" y1="359.1" y2="349.1" stroke="#222" stroke-width="1"/>
<line x1="248.46" x2="248.46" y1="359.1" y2="354.1" stroke="#222" stroke-width="1"/>
<line x1="282.99" x2="282.99" y1="359.1" y2="354.1" stroke="#222" stroke-width="1"/>
<line x1="300.26" x2="300.26" y1="359.1" y2="349.1" stroke="#222" stroke-width="1"/>
<line x1="317.53" x2="317.53" y1="359.1" y2="354.1" stroke="#222" stroke-width="1"/>
<line x1="334.79" x2="334.79" y1="359.1" y2="349.1" stroke="#222" stroke-width="1"/>
<line x1="352.06" x2="352.06" y1="359.1" y2="354.1" stroke="#222" stroke-width="1"/>
<line x1="369.33" x2="369.33" y1="359.1" y2="349.1" stroke="#222" stroke-width="1"/>
<line x1="386.59" x2="386.59" y1="359.1" y2="354.1" stroke="#222" stroke-width="1"/>
<line x1="421.12" x2="421.12" y1="359.1" y2="354.1" stroke="#222" stroke-width="1"/>
<line x1="438.39" x2="438.39" y1="359.1" y2="349.1" stroke="#222" stroke-width="1"/>
<line x1="455.66" x2="455.66" y1="359.1" y2="354.1" stroke="#222" stroke-width="1"/>
<line x1="472.92" x2="472.92" y1="359.1" y2="349.1" stroke="#222" stroke-width="1"/>
<line x1="490.19" x2="490.19" y1="359.1" y2="354.1" stroke="#222" stroke-width="1"/>
<line x1="507.45" x2="507.45" y1="359.1" y2="349.1" stroke="#222" stroke-width="1"/>
<line x1="524.72" x2="524.72" y1="359.1" y2="354.1" stroke="#222" stroke-width="1"/>
<line x1="559.25" x2="559.25" y1="359.1" y2="354.1" stroke="#222" stroke-width="1"/>
<line x1="576.52" x2="576.52" y1="359.1" y2="349.1" stroke="#222" stroke-width="1"/>
<line x1="593.78" x2="593.78" y1="359.1" y2="354.1" stroke="#222" stroke-width="1"/>
<line x1="611.05" x2="611.05" y1="359.1" y2="349.1" stroke="#222" stroke-width="1"/>
<line x1="628.32" x2="628.32" y1="359.1" y2="354.1" stroke="#222" stroke-width="1"/>
<line x1="645.58" x2="645.58" y1="359.1" y2="349.1" stroke="#222" stroke-width="1"/>
<line x1="662.85" x2="662.85" y1="359.1" y2="354.1" stroke="#222" stroke-width="1"/>
<line x1="697.38" x2="697.38" y1="359.1" y2="354.1" stroke="#222" stroke-width="1"/>
<line x1="714.65" x2="714.65" y1="359.1" y2="349.1" stroke="#222" stroke-width="1"/>
<line x1="731.91" x2="731.91" y1="359.1" y2="354.1" stroke="#222" stroke-width="1"/>
<line x1="749.18" x2="749.18" y1="359.1" y2="349.1" stroke="#222" stroke-width="1"/>
<line x1="766.44" x2="766.44" y1="359.1" y2="354.1" stroke="#222" stroke-width="1"/>
<line x1="783.71" x2="783.71" y1="359.1" y2="349.1" stroke="#222" stroke-width="1"/>
<line x1="800.98" x2="800.98" y1="359.1" y2="354.1" stroke="#222" stroke-width="1"/>
<line x1="835.51" x2="835.51" y1="359.1" y2="354.1" stroke="#222" stroke-width="1"/>
<line x1="852.78" x2="852.78" y1="359.1" y2="349.1" stroke="#222" stroke-width="1"/>
<line x1="870.04" x2="870.04" y1="359.1" y2="354.1" stroke="#222" stroke-width="1"/>
<line x1="887.31" x2="887.31" y1="359.1" y2="349.1" stroke="#222" stroke-width="1"/>
<line x1="904.57" x2="904.57" y1="359.1" y2="354.1" stroke="#222" stroke-width="1"/>
<line x1="921.84" x2="921.84" y1="359.1" y2="349.1" stroke="#222" stroke-width="1"/>
<line x1="939.11" x2="939.11" y1="359.1" y2="354.1" stroke="#222" stroke-width="1"/>
<line x1="973.64" x2="973.64" y1="359.1" y2="354.1" stroke="#222" stroke-width="1"/>
<line x1="990.90" x2="990.90" y1="359.1" y2="349.1" stroke="#222" stroke-width="1"/>
<line x1="1008.17" x2="1008.17" y1="359.1" y2="354.1" stroke="#222" stroke-width="1"/>
<line x1="1025.44" x2="1025.44" y1="359.1" y2="349.1" stroke="#222" stroke-width="1"/>
<line x1="1042.70" x2="1042.70" y1="359.1" y2="354.1" stroke="#222" stroke-width="1"/>
<line x1="1059.97" x2="1059.97" y1="359.1" y2="349.1" stroke="#222" stroke-width="1"/>
<line x1="1077.23" x2="1077.23" y1="359.1" y2="354.1" stroke="#222" stroke-width="1"/>
<rect x="127.6" y="97.4" width="966.9" height="261.70000000000005" fill="none" stroke="#000" stroke-width="1.1"/>
<text x="161.33" y="376.40" font-size="17.67" text-anchor="middle" fill="#000" textLength="21.21" lengthAdjust="spacingAndGlyphs" >06</text>
<text x="195.86" y="376.40" font-size="17.67" text-anchor="middle" fill="#000" textLength="21.21" lengthAdjust="spacingAndGlyphs" >12</text>
<text x="230.40" y="376.40" font-size="17.67" text-anchor="middle" fill="#000" textLength="21.21" lengthAdjust="spacingAndGlyphs" >18</text>
<text x="299.46" y="376.40" font-size="17.67" text-anchor="middle" fill="#000" textLength="21.21" lengthAdjust="spacingAndGlyphs" >06</text>
<text x="333.99" y="376.40" font-size="17.67" text-anchor="middle" fill="#000" textLength="21.21" lengthAdjust="spacingAndGlyphs" >12</text>
<text x="368.52" y="376.40" font-size="17.67" text-anchor="middle" fill="#000" textLength="21.21" lengthAdjust="spacingAndGlyphs" >18</text>
<text x="265.43" y="376.40" font-size="17.67" text-anchor="middle" fill="#000" textLength="23.59" lengthAdjust="spacingAndGlyphs" >tor</text>
<text x="437.59" y="376.40" font-size="17.67" text-anchor="middle" fill="#000" textLength="21.21" lengthAdjust="spacingAndGlyphs" >06</text>
<text x="472.12" y="376.40" font-size="17.67" text-anchor="middle" fill="#000" textLength="21.21" lengthAdjust="spacingAndGlyphs" >12</text>
<text x="506.65" y="376.40" font-size="17.67" text-anchor="middle" fill="#000" textLength="21.21" lengthAdjust="spacingAndGlyphs" >18</text>
<text x="403.56" y="376.40" font-size="17.67" text-anchor="middle" fill="#000" textLength="25.43" lengthAdjust="spacingAndGlyphs" >sre</text>
<text x="575.72" y="376.40" font-size="17.67" text-anchor="middle" fill="#000" textLength="21.21" lengthAdjust="spacingAndGlyphs" >06</text>
<text x="610.25" y="376.40" font-size="17.67" text-anchor="middle" fill="#000" textLength="21.21" lengthAdjust="spacingAndGlyphs" >12</text>
<text x="644.78" y="376.40" font-size="17.67" text-anchor="middle" fill="#000" textLength="21.21" lengthAdjust="spacingAndGlyphs" >18</text>
<text x="541.69" y="376.40" font-size="17.67" text-anchor="middle" fill="#000" textLength="25.96" lengthAdjust="spacingAndGlyphs" >čet</text>
<text x="713.85" y="376.40" font-size="17.67" text-anchor="middle" fill="#000" textLength="21.21" lengthAdjust="spacingAndGlyphs" >06</text>
<text x="748.38" y="376.40" font-size="17.67" text-anchor="middle" fill="#000" textLength="21.21" lengthAdjust="spacingAndGlyphs" >12</text>
<text x="782.91" y="376.40" font-size="17.67" text-anchor="middle" fill="#000" textLength="21.21" lengthAdjust="spacingAndGlyphs" >18</text>
<text x="679.81" y="376.40" font-size="17.67" text-anchor="middle" fill="#000" textLength="27.37" lengthAdjust="spacingAndGlyphs" >pet</text>
<text x="851.98" y="376.40" font-size="17.67" text-anchor="middle" fill="#000" textLength="21.21" lengthAdjust="spacingAndGlyphs" >06</text>
<text x="886.51" y="376.40" font-size="17.67" text-anchor="middle" fill="#000" textLength="21.21" lengthAdjust="spacingAndGlyphs" >12</text>
<text x="921.04" y="376.40" font-size="17.67" text-anchor="middle" fill="#000" textLength="21.21" lengthAdjust="spacingAndGlyphs" >18</text>
<text x="817.94" y="376.40" font-size="17.67" text-anchor="middle" fill="#000" textLength="29.47" lengthAdjust="spacingAndGlyphs" >sob</text>
<text x="990.10" y="376.40" font-size="17.67" text-anchor="middle" fill="#000" textLength="21.21" lengthAdjust="spacingAndGlyphs" >06</text>
<text x="1024.64" y="376.40" font-size="17.67" text-anchor="middle" fill="#000" textLength="21.21" lengthAdjust="spacingAndGlyphs" >12</text>
<text x="1059.17" y="376.40" font-size="17.67" text-anchor="middle" fill="#000" textLength="21.21" lengthAdjust="spacingAndGlyphs" >18</text>
<text x="956.07" y="376.40" font-size="17.67" text-anchor="middle" fill="#000" textLength="31.40" lengthAdjust="spacingAndGlyphs" >ned</text>
<text x="123.30" y="366.50" font-size="17.67" text-anchor="end" fill="#000" textLength="10.61" lengthAdjust="spacingAndGlyphs" >0</text>
<text x="1099.20" y="366.60" font-size="17.67" text-anchor="start" fill="#000" textLength="10.61" lengthAdjust="spacingAndGlyphs" >0</text>
<text x="123.30" y="329.11" font-size="17.67" text-anchor="end" fill="#000" textLength="10.61" lengthAdjust="spacingAndGlyphs" >1</text>
<text x="1099.20" y="326.01" font-size="17.67" text-anchor="start" fill="#000" textLength="26.51" lengthAdjust="spacingAndGlyphs" >1.5</text>
<text x="123.30" y="291.73" font-size="17.67" text-anchor="end" fill="#000" textLength="10.61" lengthAdjust="spacingAndGlyphs" >2</text>
<text x="1099.20" y="289.63" font-size="17.67" text-anchor="start" fill="#000" textLength="26.51" lengthAdjust="spacingAndGlyphs" >3.5</text>
<text x="123.30" y="254.34" font-size="17.67" text-anchor="end" fill="#000" textLength="10.61" lengthAdjust="spacingAndGlyphs" >3</text>
<text x="1099.20" y="252.24" font-size="17.67" text-anchor="start" fill="#000" textLength="26.51" lengthAdjust="spacingAndGlyphs" >6.0</text>
<text x="123.30" y="216.96" font-size="17.67" text-anchor="end" fill="#000" textLength="10.61" lengthAdjust="spacingAndGlyphs" >4</text>
<text x="1099.20" y="214.86" font-size="17.67" text-anchor="start" fill="#000" textLength="26.51" lengthAdjust="spacingAndGlyphs" >9.0</text>
<text x="123.30" y="179.57" font-size="17.67" text-anchor="end" fill="#000" textLength="10.61" lengthAdjust="spacingAndGlyphs" >5</text>
<text x="1099.20" y="177.47" font-size="17.67" text-anchor="start" fill="#000" textLength="21.21" lengthAdjust="spacingAndGlyphs" >14</text>
<text x="46.30" y="366.20" font-size="17.67" text-anchor="start" fill="#f00" textLength="10.61" lengthAdjust="spacingAndGlyphs" >0</text>
<text x="46.30" y="328.81" font-size="17.67" text-anchor="start" fill="#f00" textLength="10.61" lengthAdjust="spacingAndGlyphs" >4</text>
<text x="46.30" y="291.43" font-size="17.67" text-anchor="start" fill="#f00" textLength="10.61" lengthAdjust="spacingAndGlyphs" >9</text>
<text x="46.30" y="254.04" font-size="17.67" text-anchor="start" fill="#f00" textLength="21.21" lengthAdjust="spacingAndGlyphs" >13</text>
<text x="46.30" y="216.66" font-size="17.67" text-anchor="start" fill="#f00" textLength="21.21" lengthAdjust="spacingAndGlyphs" >18</text>
<text x="46.30" y="179.27" font-size="17.67" text-anchor="start" fill="#f00" textLength="21.21" lengthAdjust="spacingAndGlyphs" >22</text>
<text x="100.00" y="263.30" font-size="19.93" text-anchor="middle" fill="#000" textLength="162.75" lengthAdjust="spacingAndGlyphs" transform="rotate(-90 100.00 263.30)" >Padavine (mm/h)</text>
<text x="1144.30" y="259.00" font-size="19.93" text-anchor="middle" fill="#000" textLength="184.97" lengthAdjust="spacingAndGlyphs" transform="rotate(-90 1144.30 259.00)" >Višina oblakov (km)</text>
<text x="35.00" y="267.00" font-size="20.50" text-anchor="middle" fill="#f00" textLength="165.00" lengthAdjust="spacingAndGlyphs" transform="rotate(-90 35.00 267.00)" >Temperatura (°C)</text>
<text x="196.36" y="68.60" font-size="19.14" text-anchor="middle" fill="#000" textLength="96.47" lengthAdjust="spacingAndGlyphs" >ponedeljek</text>
<text x="196.36" y="90.00" font-size="19.14" text-anchor="middle" fill="#000" textLength="50.05" lengthAdjust="spacingAndGlyphs" >13.10</text>
<text x="334.49" y="68.60" font-size="19.14" text-anchor="middle" fill="#000" textLength="45.42" lengthAdjust="spacingAndGlyphs" >torek</text>
<text x="334.49" y="90.00" font-size="19.14" text-anchor="middle" fill="#000" textLength="50.05" lengthAdjust="spacingAndGlyphs" >14.10</text>
<text x="472.62" y="68.60" font-size="19.14" text-anchor="middle" fill="#000" textLength="48.68" lengthAdjust="spacingAndGlyphs" >sreda</text>
<text x="472.62" y="90.00" font-size="19.14" text-anchor="middle" fill="#000" textLength="50.05" lengthAdjust="spacingAndGlyphs" >15.10</text>
<text x="610.75" y="68.60" font-size="19.14" text-anchor="middle" fill="#000" textLength="62.40" lengthAdjust="spacingAndGlyphs" >četrtek</text>
<text x="610.75" y="90.00" font-size="19.14" text-anchor="middle" fill="#000" textLength="50.05" lengthAdjust="spacingAndGlyphs" >16.10</text>
<text x="748.88" y="68.60" font-size="19.14" text-anchor="middle" fill="#000" textLength="49.79" lengthAdjust="spacingAndGlyphs" >petek</text>
<text x="748.88" y="90.00" font-size="19.14" text-anchor="middle" fill="#000" textLength="50.05" lengthAdjust="spacingAndGlyphs" >17.10</text>
<text x="887.01" y="68.60" font-size="19.14" text-anchor="middle" fill="#cc0000" textLength="59.41" lengthAdjust="spacingAndGlyphs" >sobota</text>
<text x="887.01" y="90.00" font-size="19.14" text-anchor="middle" fill="#cc0000" textLength="50.05" lengthAdjust="spacingAndGlyphs" >18.10</text>
<text x="1025.14" y="68.60" font-size="19.14" text-anchor="middle" fill="#cc0000" textLength="64.38" lengthAdjust="spacingAndGlyphs" >nedelja</text>
<text x="1025.14" y="90.00" font-size="19.14" text-anchor="middle" fill="#cc0000" textLength="50.05" lengthAdjust="spacingAndGlyphs" >19.10</text>
<text x="10.00" y="21.80" font-size="16.00" text-anchor="start" fill="#0000f0" textLength="204.50" lengthAdjust="spacingAndGlyphs" >(kraj lahko izberete v meniju)</text>
<text x="399.50" y="37.20" font-size="23.40" text-anchor="start" fill="#0000ff" textLength="149.50" lengthAdjust="spacingAndGlyphs" >Karlovac 7 dni</text>
<text x="860.50" y="21.80" font-size="16.00" text-anchor="start" fill="#0000f0" textLength="282.50" lengthAdjust="spacingAndGlyphs" >Zadnja posodobitev: 13.10.2025 - 04:08</text>
<rect x="127" y="390" width="32" height="11" fill="#0050ff"/>
<rect x="165" y="386" width="105.3" height="19.7" fill="#fff"/>
<text x="169.00" y="401.70" font-size="19.30" text-anchor="start" fill="#000" textLength="35.00" lengthAdjust="spacingAndGlyphs" >Dež</text>
<rect x="278" y="390" width="32" height="11" fill="#0bdbc9"/>
<rect x="310" y="386" width="110.5" height="19.7" fill="#fff"/>
<text x="319.00" y="401.70" font-size="19.30" text-anchor="start" fill="#000" textLength="115.00" lengthAdjust="spacingAndGlyphs" >Možnost ploh</text>
<text x="499.50" y="401.50" font-size="16.00" text-anchor="start" fill="#0000f0" textLength="172.00" lengthAdjust="spacingAndGlyphs" >© vreme.us &amp; vreme.pro</text>
<rect x="759.5" y="386" width="179.5" height="19.7" fill="#fff"/>
<text x="759.50" y="401.70" font-size="19.30" text-anchor="start" fill="#000" textLength="176.00" lengthAdjust="spacingAndGlyphs" >Gostota oblakov (%)</text>
<rect x="949.5" y="385.5" width="29.1" height="13" fill="#d2d2d2"/>
<rect x="978.5" y="385.5" width="29.1" height="13" fill="#b1b1b1"/>
<rect x="1007.4" y="385.5" width="29.1" height="13" fill="#929291"/>
<rect x="1036.4" y="385.5" width="29.1" height="13" fill="#747474"/>
<rect x="1065.3" y="385.5" width="29.1" height="13" fill="#555555"/>
<rect x="949.5" y="385.5" width="144.8" height="13" fill="none" stroke="#222" stroke-width="1"/>
<text x="950.00" y="415.00" font-size="15.79" text-anchor="middle" fill="#000" textLength="18.96" lengthAdjust="spacingAndGlyphs" >10</text>
<text x="977.40" y="415.00" font-size="15.79" text-anchor="middle" fill="#000" textLength="18.96" lengthAdjust="spacingAndGlyphs" >25</text>
<text x="1006.60" y="415.00" font-size="15.79" text-anchor="middle" fill="#000" textLength="18.96" lengthAdjust="spacingAndGlyphs" >50</text>
<text x="1035.60" y="415.00" font-size="15.79" text-anchor="middle" fill="#000" textLength="18.96" lengthAdjust="spacingAndGlyphs" >75</text>
<text x="1064.90" y="415.00" font-size="15.79" text-anchor="middle" fill="#000" textLength="18.96" lengthAdjust="spacingAndGlyphs" >90</text>
<text x="1094.70" y="415.00" font-size="15.79" text-anchor="middle" fill="#000" textLength="28.44" lengthAdjust="spacingAndGlyphs" >100</text>
<g><path d="M149.97,100.80 C138.57,102.30 132.07,110.80 137.77,120.30 C140.57,124.30 145.07,126.80 149.57,126.80 C142.07,119.80 141.07,110.30 149.97,100.80Z" fill="#fbfbfb" stroke="#000" stroke-width="1.45" stroke-linejoin="round"/><rect x="126.27" y="115.00" width="36.70" height="1.6" fill="#2b4d7a"/><rect x="126.67" y="117.70" width="35.10" height="1.6" fill="#2b4d7a"/><rect x="129.37" y="122.10" width="30.90" height="2.8" fill="#2b4d7a"/></g>
<g><polygon points="182.14,105.70 182.93,100.04 185.18,100.52 183.61,106.01" fill="#f6e51f" stroke="#f4c53e" stroke-width="0.5" stroke-linejoin="round"/><polygon points="186.94,108.30 191.51,104.86 192.76,106.79 187.76,109.56" fill="#f6e51f" stroke="#f4c53e" stroke-width="0.5" stroke-linejoin="round"/><polygon points="188.50,113.54 194.16,114.34 193.68,116.59 188.19,115.01" fill="#f6e51f" stroke="#f4c53e" stroke-width="0.5" stroke-linejoin="round"/><polygon points="185.89,118.35 189.33,122.91 187.41,124.16 184.64,119.16" fill="#f6e51f" stroke="#f4c53e" stroke-width="0.5" stroke-linejoin="round"/><polygon points="180.66,119.90 179.86,125.56 177.61,125.08 179.19,119.59" fill="#f6e51f" stroke="#f4c53e" stroke-width="0.5" stroke-linejoin="round"/><polygon points="175.85,117.30 171.29,120.74 170.04,118.81 175.04,116.04" fill="#f6e51f" stroke="#f4c53e" stroke-width="0.5" stroke-linejoin="round"/><polygon points="174.30,112.06 168.64,111.26 169.12,109.01 174.61,110.59" fill="#f6e51f" stroke="#f4c53e" stroke-width="0.5" stroke-linejoin="round"/><polygon points="176.90,107.25 173.46,102.69 175.39,101.44 178.16,106.44" fill="#f6e51f" stroke="#f4c53e" stroke-width="0.5" stroke-linejoin="round"/><circle cx="181.40" cy="112.80" r="6.5" fill="#f6e51f" stroke="#f2a52a" stroke-width="0.8"/><g fill="#2c5fb5" stroke="#2c5fb5" stroke-width="2.8"><circle cx="167.20" cy="121.70" r="3.60"/><circle cx="173.60" cy="118.40" r="4.60"/><circle cx="179.50" cy="122.20" r="4.10"/><circle cx="170.50" cy="124.00" r="3.40"/><circle cx="175.50" cy="124.20" r="3.40"/><circle cx="173.40" cy="121.80" r="3.50"/></g><g fill="#d3d3d3"><circle cx="167.20" cy="121.70" r="3.60"/><circle cx="173.60" cy="118.40" r="4.60"/><circle cx="179.50" cy="122.20" r="4.10"/><circle cx="170.50" cy="124.00" r="3.40"/><circle cx="175.50" cy="124.20" r="3.40"/><circle cx="173.40" cy="121.80" r="3.50"/></g><path d="M174.40,121.20 Q175.20,118.40 178.50,118.20" fill="none" stroke="#2c5fb5" stroke-width="1.4" stroke-linecap="round"/></g>
<g><polygon points="216.67,105.70 217.47,100.04 219.72,100.52 218.14,106.01" fill="#f6e51f" stroke="#f4c53e" stroke-width="0.5" stroke-linejoin="round"/><polygon points="221.48,108.30 226.04,104.86 227.29,106.79 222.29,109.56" fill="#f6e51f" stroke="#f4c53e" stroke-width="0.5" stroke-linejoin="round"/><polygon points="223.03,113.54 228.69,114.34 228.21,116.59 222.72,115.01" fill="#f6e51f" stroke="#f4c53e" stroke-width="0.5" stroke-linejoin="round"/><polygon points="220.43,118.35 223.87,122.91 221.94,124.16 219.17,119.16" fill="#f6e51f" stroke="#f4c53e" stroke-width="0.5" stroke-linejoin="round"/><polygon points="215.19,119.90 214.39,125.56 212.14,125.08 213.72,119.59" fill="#f6e51f" stroke="#f4c53e" stroke-width="0.5" stroke-linejoin="round"/><polygon points="210.38,117.30 205.82,120.74 204.57,118.81 209.57,116.04" fill="#f6e51f" stroke="#f4c53e" stroke-width="0.5" stroke-linejoin="round"/><polygon points="208.83,112.06 203.17,111.26 203.65,109.01 209.14,110.59" fill="#f6e51f" stroke="#f4c53e" stroke-width="0.5" stroke-linejoin="round"/><polygon points="211.43,107.25 207.99,102.69 209.92,101.44 212.69,106.44" fill="#f6e51f" stroke="#f4c53e" stroke-width="0.5" stroke-linejoin="round"/><circle cx="215.93" cy="112.80" r="6.5" fill="#f6e51f" stroke="#f2a52a" stroke-width="0.8"/><g fill="#2c5fb5" stroke="#2c5fb5" stroke-width="2.8"><circle cx="201.73" cy="121.70" r="3.60"/><circle cx="208.13" cy="118.40" r="4.60"/><circle cx="214.03" cy="122.20" r="4.10"/><circle cx="205.03" cy="124.00" r="3.40"/><circle cx="210.03" cy="124.20" r="3.40"/><circle cx="207.93" cy="121.80" r="3.50"/></g><g fill="#d3d3d3"><circle cx="201.73" cy="121.70" r="3.60"/><circle cx="208.13" cy="118.40" r="4.60"/><circle cx="214.03" cy="122.20" r="4.10"/><circle cx="205.03" cy="124.00" r="3.40"/><circle cx="210.03" cy="124.20" r="3.40"/><circle cx="207.93" cy="121.80" r="3.50"/></g><path d="M208.93,121.20 Q209.73,118.40 213.03,118.20" fill="none" stroke="#2c5fb5" stroke-width="1.4" stroke-linecap="round"/></g>
<g><path d="M248.06,100.60 C236.66,102.10 230.16,110.60 235.86,120.10 C238.66,124.10 243.16,126.60 247.66,126.60 C240.16,119.60 239.16,110.10 248.06,100.60Z" fill="#fbfbfb" stroke="#000" stroke-width="1.45" stroke-linejoin="round"/><g fill="#2f5078" stroke="#2f5078" stroke-width="3.0"><circle cx="243.31" cy="120.44" r="4.14"/><circle cx="250.67" cy="116.64" r="5.29"/><circle cx="257.45" cy="121.01" r="4.71"/><circle cx="247.10" cy="123.08" r="3.91"/><circle cx="252.85" cy="123.31" r="3.91"/><circle cx="250.44" cy="120.55" r="4.02"/></g><g fill="#d3d3d3"><circle cx="243.31" cy="120.44" r="4.14"/><circle cx="250.67" cy="116.64" r="5.29"/><circle cx="257.45" cy="121.01" r="4.71"/><circle cx="247.10" cy="123.08" r="3.91"/><circle cx="252.85" cy="123.31" r="3.91"/><circle cx="250.44" cy="120.55" r="4.02"/></g><path d="M251.59,119.86 Q252.51,116.64 256.30,116.41" fill="none" stroke="#2f5078" stroke-width="1.5" stroke-linecap="round"/></g>
<g><path d="M288.09,100.80 C276.69,102.30 270.19,110.80 275.89,120.30 C278.69,124.30 283.19,126.80 287.69,126.80 C280.19,119.80 279.19,110.30 288.09,100.80Z" fill="#fbfbfb" stroke="#000" stroke-width="1.45" stroke-linejoin="round"/><rect x="264.39" y="115.00" width="36.70" height="1.6" fill="#2b4d7a"/><rect x="264.79" y="117.70" width="35.10" height="1.6" fill="#2b4d7a"/><rect x="267.49" y="122.10" width="30.90" height="2.8" fill="#2b4d7a"/></g>
<g><clipPath id="c317"><rect x="295.5" y="97" width="44" height="20.3"/></clipPath><g clip-path="url(#c317)"><polygon points="317.81,105.90 318.60,100.24 320.85,100.72 319.28,106.22" fill="#f6e51f" stroke="#f4c53e" stroke-width="0.5" stroke-linejoin="round"/><polygon points="322.74,108.60 327.30,105.16 328.56,107.08 323.56,109.85" fill="#f6e51f" stroke="#f4c53e" stroke-width="0.5" stroke-linejoin="round"/><polygon points="324.32,113.98 329.98,114.78 329.50,117.03 324.01,115.45" fill="#f6e51f" stroke="#f4c53e" stroke-width="0.5" stroke-linejoin="round"/><polygon points="321.63,118.91 325.07,123.48 323.14,124.73 320.37,119.73" fill="#f6e51f" stroke="#f4c53e" stroke-width="0.5" stroke-linejoin="round"/><polygon points="316.24,120.50 315.45,126.16 313.20,125.68 314.78,120.18" fill="#f6e51f" stroke="#f4c53e" stroke-width="0.5" stroke-linejoin="round"/><polygon points="311.31,117.80 306.75,121.24 305.50,119.32 310.50,116.55" fill="#f6e51f" stroke="#f4c53e" stroke-width="0.5" stroke-linejoin="round"/><polygon points="309.73,112.42 304.07,111.62 304.55,109.37 310.04,110.95" fill="#f6e51f" stroke="#f4c53e" stroke-width="0.5" stroke-linejoin="round"/><polygon points="312.42,107.49 308.98,102.92 310.91,101.67 313.68,106.67" fill="#f6e51f" stroke="#f4c53e" stroke-width="0.5" stroke-linejoin="round"/><circle cx="317.03" cy="113.20" r="6.7" fill="#f6e51f" stroke="#f2a52a" stroke-width="0.8"/></g><rect x="306.0" y="118.9" width="3.2" height="1" fill="#f6e51f" opacity=".8"/><rect x="315.0" y="118.9" width="7.5" height="1.1" fill="#f6e51f" opacity=".8"/><rect x="313.9" y="122.4" width="2.4" height="1.2" fill="#f6e51f" opacity=".7"/><rect x="322.9" y="122.4" width="2.4" height="1.2" fill="#f6e51f" opacity=".7"/><rect x="298.83" y="116.40" width="36.80" height="2.3" fill="#4d7ec6"/><rect x="300.03" y="120.10" width="34.70" height="2.0" fill="#4d7ec6"/><rect x="302.03" y="124.30" width="31.60" height="3.1" fill="#4d7ec6"/></g>
<g><polygon points="354.80,105.70 355.60,100.04 357.85,100.52 356.27,106.01" fill="#f6e51f" stroke="#f4c53e" stroke-width="0.5" stroke-linejoin="round"/><polygon points="359.61,108.30 364.17,104.86 365.42,106.79 360.42,109.56" fill="#f6e51f" stroke="#f4c53e" stroke-width="0.5" stroke-linejoin="round"/><polygon points="361.16,113.54 366.82,114.34 366.34,116.59 360.85,115.01" fill="#f6e51f" stroke="#f4c53e" stroke-width="0.5" stroke-linejoin="round"/><polygon points="358.55,118.35 361.99,122.91 360.07,124.16 357.30,119.16" fill="#f6e51f" stroke="#f4c53e" stroke-width="0.5" stroke-linejoin="round"/><polygon points="353.32,119.90 352.52,125.56 350.27,125.08 351.85,119.59" fill="#f6e51f" stroke="#f4c53e" stroke-width="0.5" stroke-linejoin="round"/><polygon points="348.51,117.30 343.95,120.74 342.70,118.81 347.70,116.04" fill="#f6e51f" stroke="#f4c53e" stroke-width="0.5" stroke-linejoin="round"/><polygon points="346.96,112.06 341.30,111.26 341.78,109.01 347.27,110.59" fill="#f6e51f" stroke="#f4c53e" stroke-width="0.5" stroke-linejoin="round"/><polygon points="349.56,107.25 346.12,102.69 348.05,101.44 350.82,106.44" fill="#f6e51f" stroke="#f4c53e" stroke-width="0.5" stroke-linejoin="round"/><circle cx="354.06" cy="112.80" r="6.5" fill="#f6e51f" stroke="#f2a52a" stroke-width="0.8"/><g fill="#2c5fb5" stroke="#2c5fb5" stroke-width="2.8"><circle cx="339.86" cy="121.70" r="3.60"/><circle cx="346.26" cy="118.40" r="4.60"/><circle cx="352.16" cy="122.20" r="4.10"/><circle cx="343.16" cy="124.00" r="3.40"/><circle cx="348.16" cy="124.20" r="3.40"/><circle cx="346.06" cy="121.80" r="3.50"/></g><g fill="#d3d3d3"><circle cx="339.86" cy="121.70" r="3.60"/><circle cx="346.26" cy="118.40" r="4.60"/><circle cx="352.16" cy="122.20" r="4.10"/><circle cx="343.16" cy="124.00" r="3.40"/><circle cx="348.16" cy="124.20" r="3.40"/><circle cx="346.06" cy="121.80" r="3.50"/></g><path d="M347.06,121.20 Q347.86,118.40 351.16,118.20" fill="none" stroke="#2c5fb5" stroke-width="1.4" stroke-linecap="round"/></g>
<g><path d="M386.19,100.60 C374.79,102.10 368.29,110.60 373.99,120.10 C376.79,124.10 381.29,126.60 385.79,126.60 C378.29,119.60 377.29,110.10 386.19,100.60Z" fill="#fbfbfb" stroke="#000" stroke-width="1.45" stroke-linejoin="round"/><g fill="#2f5078" stroke="#2f5078" stroke-width="3.0"><circle cx="381.44" cy="120.44" r="4.14"/><circle cx="388.80" cy="116.64" r="5.29"/><circle cx="395.58" cy="121.01" r="4.71"/><circle cx="385.23" cy="123.08" r="3.91"/><circle cx="390.98" cy="123.31" r="3.91"/><circle cx="388.57" cy="120.55" r="4.02"/></g><g fill="#d3d3d3"><circle cx="381.44" cy="120.44" r="4.14"/><circle cx="388.80" cy="116.64" r="5.29"/><circle cx="395.58" cy="121.01" r="4.71"/><circle cx="385.23" cy="123.08" r="3.91"/><circle cx="390.98" cy="123.31" r="3.91"/><circle cx="388.57" cy="120.55" r="4.02"/></g><path d="M389.72,119.86 Q390.64,116.64 394.43,116.41" fill="none" stroke="#2f5078" stroke-width="1.5" stroke-linecap="round"/></g>
<g><path d="M420.72,100.60 C409.32,102.10 402.82,110.60 408.52,120.10 C411.32,124.10 415.82,126.60 420.32,126.60 C412.82,119.60 411.82,110.10 420.72,100.60Z" fill="#fbfbfb" stroke="#000" stroke-width="1.45" stroke-linejoin="round"/><g fill="#2f5078" stroke="#2f5078" stroke-width="3.0"><circle cx="415.97" cy="120.44" r="4.14"/><circle cx="423.33" cy="116.64" r="5.29"/><circle cx="430.11" cy="121.01" r="4.71"/><circle cx="419.76" cy="123.08" r="3.91"/><circle cx="425.51" cy="123.31" r="3.91"/><circle cx="423.10" cy="120.55" r="4.02"/></g><g fill="#d3d3d3"><circle cx="415.97" cy="120.44" r="4.14"/><circle cx="423.33" cy="116.64" r="5.29"/><circle cx="430.11" cy="121.01" r="4.71"/><circle cx="419.76" cy="123.08" r="3.91"/><circle cx="425.51" cy="123.31" r="3.91"/><circle cx="423.10" cy="120.55" r="4.02"/></g><path d="M424.25,119.86 Q425.17,116.64 428.96,116.41" fill="none" stroke="#2f5078" stroke-width="1.5" stroke-linecap="round"/></g>
<g><clipPath id="c455"><rect x="433.7" y="97" width="44" height="20.3"/></clipPath><g clip-path="url(#c455)"><polygon points="455.94,105.90 456.73,100.24 458.98,100.72 457.41,106.22" fill="#f6e51f" stroke="#f4c53e" stroke-width="0.5" stroke-linejoin="round"/><polygon points="460.87,108.60 465.43,105.16 466.68,107.08 461.69,109.85" fill="#f6e51f" stroke="#f4c53e" stroke-width="0.5" stroke-linejoin="round"/><polygon points="462.45,113.98 468.11,114.78 467.63,117.03 462.14,115.45" fill="#f6e51f" stroke="#f4c53e" stroke-width="0.5" stroke-linejoin="round"/><polygon points="459.76,118.91 463.20,123.48 461.27,124.73 458.50,119.73" fill="#f6e51f" stroke="#f4c53e" stroke-width="0.5" stroke-linejoin="round"/><polygon points="454.37,120.50 453.58,126.16 451.33,125.68 452.90,120.18" fill="#f6e51f" stroke="#f4c53e" stroke-width="0.5" stroke-linejoin="round"/><polygon points="449.44,117.80 444.88,121.24 443.63,119.32 448.62,116.55" fill="#f6e51f" stroke="#f4c53e" stroke-width="0.5" stroke-linejoin="round"/><polygon points="447.86,112.42 442.20,111.62 442.68,109.37 448.17,110.95" fill="#f6e51f" stroke="#f4c53e" stroke-width="0.5" stroke-linejoin="round"/><polygon points="450.55,107.49 447.11,102.92 449.04,101.67 451.81,106.67" fill="#f6e51f" stroke="#f4c53e" stroke-width="0.5" stroke-linejoin="round"/><circle cx="455.16" cy="113.20" r="6.7" fill="#f6e51f" stroke="#f2a52a" stroke-width="0.8"/></g><rect x="444.2" y="118.9" width="3.2" height="1" fill="#f6e51f" opacity=".8"/><rect x="453.2" y="118.9" width="7.5" height="1.1" fill="#f6e51f" opacity=".8"/><rect x="452.1" y="122.4" width="2.4" height="1.2" fill="#f6e51f" opacity=".7"/><rect x="461.1" y="122.4" width="2.4" height="1.2" fill="#f6e51f" opacity=".7"/><rect x="436.96" y="116.40" width="36.80" height="2.3" fill="#4d7ec6"/><rect x="438.16" y="120.10" width="34.70" height="2.0" fill="#4d7ec6"/><rect x="440.16" y="124.30" width="31.60" height="3.1" fill="#4d7ec6"/></g>
<g><polygon points="487.53,106.10 488.32,100.44 490.57,100.92 489.00,106.41" fill="#f6e51f" stroke="#f4c53e" stroke-width="0.5" stroke-linejoin="round"/><polygon points="492.33,108.70 496.90,105.26 498.15,107.19 493.15,109.96" fill="#f6e51f" stroke="#f4c53e" stroke-width="0.5" stroke-linejoin="round"/><polygon points="493.89,113.94 499.55,114.74 499.07,116.99 493.58,115.41" fill="#f6e51f" stroke="#f4c53e" stroke-width="0.5" stroke-linejoin="round"/><polygon points="491.28,118.75 494.72,123.31 492.79,124.56 490.03,119.56" fill="#f6e51f" stroke="#f4c53e" stroke-width="0.5" stroke-linejoin="round"/><polygon points="486.04,120.30 485.25,125.96 483.00,125.48 484.58,119.99" fill="#f6e51f" stroke="#f4c53e" stroke-width="0.5" stroke-linejoin="round"/><polygon points="481.24,117.70 476.68,121.14 475.43,119.21 480.42,116.44" fill="#f6e51f" stroke="#f4c53e" stroke-width="0.5" stroke-linejoin="round"/><polygon points="479.69,112.46 474.03,111.66 474.51,109.41 480.00,110.99" fill="#f6e51f" stroke="#f4c53e" stroke-width="0.5" stroke-linejoin="round"/><polygon points="482.29,107.65 478.85,103.09 480.78,101.84 483.55,106.84" fill="#f6e51f" stroke="#f4c53e" stroke-width="0.5" stroke-linejoin="round"/><circle cx="486.79" cy="113.20" r="6.5" fill="#f6e51f" stroke="#f2a52a" stroke-width="0.8"/><g fill="#2c5fb5" stroke="#2c5fb5" stroke-width="3.2"><circle cx="489.93" cy="120.12" r="2.88"/><circle cx="495.05" cy="117.48" r="3.68"/><circle cx="499.77" cy="120.52" r="3.28"/><circle cx="492.57" cy="121.96" r="2.72"/><circle cx="496.57" cy="122.12" r="2.72"/><circle cx="494.89" cy="120.20" r="2.80"/></g><g fill="#ffffff"><circle cx="489.93" cy="120.12" r="2.88"/><circle cx="495.05" cy="117.48" r="3.68"/><circle cx="499.77" cy="120.52" r="3.28"/><circle cx="492.57" cy="121.96" r="2.72"/><circle cx="496.57" cy="122.12" r="2.72"/><circle cx="494.89" cy="120.20" r="2.80"/></g><path d="M495.69,119.72 Q496.33,117.48 498.97,117.32" fill="none" stroke="#2c5fb5" stroke-width="1.6" stroke-linecap="round"/></g>
<g><path d="M527.62,100.60 C516.22,102.10 509.72,110.60 515.42,120.10 C518.22,124.10 522.72,126.60 527.22,126.60 C519.72,119.60 518.72,110.10 527.62,100.60Z" fill="#fbfbfb" stroke="#000" stroke-width="1.45" stroke-linejoin="round"/><g fill="#2f5078" stroke="#2f5078" stroke-width="3.0"><circle cx="522.79" cy="121.59" r="2.99"/><circle cx="528.10" cy="118.85" r="3.82"/><circle cx="533.00" cy="122.00" r="3.40"/><circle cx="525.53" cy="123.50" r="2.82"/><circle cx="529.68" cy="123.66" r="2.82"/><circle cx="527.93" cy="121.67" r="2.90"/></g><g fill="#d3d3d3"><circle cx="522.79" cy="121.59" r="2.99"/><circle cx="528.10" cy="118.85" r="3.82"/><circle cx="533.00" cy="122.00" r="3.40"/><circle cx="525.53" cy="123.50" r="2.82"/><circle cx="529.68" cy="123.66" r="2.82"/><circle cx="527.93" cy="121.67" r="2.90"/></g><path d="M528.76,121.17 Q529.43,118.85 532.17,118.68" fill="none" stroke="#2f5078" stroke-width="1.5" stroke-linecap="round"/></g>
<g><path d="M564.35,100.80 C552.95,102.30 546.45,110.80 552.15,120.30 C554.95,124.30 559.45,126.80 563.95,126.80 C556.45,119.80 555.45,110.30 564.35,100.80Z" fill="#fbfbfb" stroke="#000" stroke-width="1.45" stroke-linejoin="round"/><rect x="540.65" y="115.00" width="36.70" height="1.6" fill="#2b4d7a"/><rect x="541.05" y="117.70" width="35.10" height="1.6" fill="#2b4d7a"/><rect x="543.75" y="122.10" width="30.90" height="2.8" fill="#2b4d7a"/></g>
<g><clipPath id="c593"><rect x="571.8" y="97" width="44" height="20.3"/></clipPath><g clip-path="url(#c593)"><polygon points="594.07,105.90 594.86,100.24 597.11,100.72 595.54,106.22" fill="#f6e51f" stroke="#f4c53e" stroke-width="0.5" stroke-linejoin="round"/><polygon points="599.00,108.60 603.56,105.16 604.81,107.08 599.81,109.85" fill="#f6e51f" stroke="#f4c53e" stroke-width="0.5" stroke-linejoin="round"/><polygon points="600.58,113.98 606.24,114.78 605.76,117.03 600.27,115.45" fill="#f6e51f" stroke="#f4c53e" stroke-width="0.5" stroke-linejoin="round"/><polygon points="597.89,118.91 601.33,123.48 599.40,124.73 596.63,119.73" fill="#f6e51f" stroke="#f4c53e" stroke-width="0.5" stroke-linejoin="round"/><polygon points="592.50,120.50 591.71,126.16 589.46,125.68 591.03,120.18" fill="#f6e51f" stroke="#f4c53e" stroke-width="0.5" stroke-linejoin="round"/><polygon points="587.57,117.80 583.01,121.24 581.75,119.32 586.75,116.55" fill="#f6e51f" stroke="#f4c53e" stroke-width="0.5" stroke-linejoin="round"/><polygon points="585.99,112.42 580.33,111.62 580.81,109.37 586.30,110.95" fill="#f6e51f" stroke="#f4c53e" stroke-width="0.5" stroke-linejoin="round"/><polygon points="588.68,107.49 585.24,102.92 587.17,101.67 589.94,106.67" fill="#f6e51f" stroke="#f4c53e" stroke-width="0.5" stroke-linejoin="round"/><circle cx="593.28" cy="113.20" r="6.7" fill="#f6e51f" stroke="#f2a52a" stroke-width="0.8"/></g><rect x="582.3" y="118.9" width="3.2" height="1" fill="#f6e51f" opacity=".8"/><rect x="591.3" y="118.9" width="7.5" height="1.1" fill="#f6e51f" opacity=".8"/><rect x="590.2" y="122.4" width="2.4" height="1.2" fill="#f6e51f" opacity=".7"/><rect x="599.2" y="122.4" width="2.4" height="1.2" fill="#f6e51f" opacity=".7"/><rect x="575.08" y="116.40" width="36.80" height="2.3" fill="#4d7ec6"/><rect x="576.28" y="120.10" width="34.70" height="2.0" fill="#4d7ec6"/><rect x="578.28" y="124.30" width="31.60" height="3.1" fill="#4d7ec6"/></g>
<g><polygon points="625.66,106.10 626.45,100.44 628.70,100.92 627.13,106.41" fill="#f6e51f" stroke="#f4c53e" stroke-width="0.5" stroke-linejoin="round"/><polygon points="630.46,108.70 635.02,105.26 636.28,107.19 631.28,109.96" fill="#f6e51f" stroke="#f4c53e" stroke-width="0.5" stroke-linejoin="round"/><polygon points="632.02,113.94 637.68,114.74 637.20,116.99 631.70,115.41" fill="#f6e51f" stroke="#f4c53e" stroke-width="0.5" stroke-linejoin="round"/><polygon points="629.41,118.75 632.85,123.31 630.92,124.56 628.15,119.56" fill="#f6e51f" stroke="#f4c53e" stroke-width="0.5" stroke-linejoin="round"/><polygon points="624.17,120.30 623.38,125.96 621.13,125.48 622.71,119.99" fill="#f6e51f" stroke="#f4c53e" stroke-width="0.5" stroke-linejoin="round"/><polygon points="619.37,117.70 614.81,121.14 613.55,119.21 618.55,116.44" fill="#f6e51f" stroke="#f4c53e" stroke-width="0.5" stroke-linejoin="round"/><polygon points="617.82,112.46 612.16,111.66 612.63,109.41 618.13,110.99" fill="#f6e51f" stroke="#f4c53e" stroke-width="0.5" stroke-linejoin="round"/><polygon points="620.42,107.65 616.98,103.09 618.91,101.84 621.68,106.84" fill="#f6e51f" stroke="#f4c53e" stroke-width="0.5" stroke-linejoin="round"/><circle cx="624.92" cy="113.20" r="6.5" fill="#f6e51f" stroke="#f2a52a" stroke-width="0.8"/><g fill="#2c5fb5" stroke="#2c5fb5" stroke-width="3.2"><circle cx="628.06" cy="120.12" r="2.88"/><circle cx="633.18" cy="117.48" r="3.68"/><circle cx="637.90" cy="120.52" r="3.28"/><circle cx="630.70" cy="121.96" r="2.72"/><circle cx="634.70" cy="122.12" r="2.72"/><circle cx="633.02" cy="120.20" r="2.80"/></g><g fill="#ffffff"><circle cx="628.06" cy="120.12" r="2.88"/><circle cx="633.18" cy="117.48" r="3.68"/><circle cx="637.90" cy="120.52" r="3.28"/><circle cx="630.70" cy="121.96" r="2.72"/><circle cx="634.70" cy="122.12" r="2.72"/><circle cx="633.02" cy="120.20" r="2.80"/></g><path d="M633.82,119.72 Q634.46,117.48 637.10,117.32" fill="none" stroke="#2c5fb5" stroke-width="1.6" stroke-linecap="round"/></g>
<g><path d="M662.45,100.60 C651.05,102.10 644.55,110.60 650.25,120.10 C653.05,124.10 657.55,126.60 662.05,126.60 C654.55,119.60 653.55,110.10 662.45,100.60Z" fill="#fbfbfb" stroke="#000" stroke-width="1.45" stroke-linejoin="round"/><g fill="#2f5078" stroke="#2f5078" stroke-width="3.0"><circle cx="657.69" cy="120.44" r="4.14"/><circle cx="665.05" cy="116.64" r="5.29"/><circle cx="671.84" cy="121.01" r="4.71"/><circle cx="661.49" cy="123.08" r="3.91"/><circle cx="667.24" cy="123.31" r="3.91"/><circle cx="664.82" cy="120.55" r="4.02"/></g><g fill="#d3d3d3"><circle cx="657.69" cy="120.44" r="4.14"/><circle cx="665.05" cy="116.64" r="5.29"/><circle cx="671.84" cy="121.01" r="4.71"/><circle cx="661.49" cy="123.08" r="3.91"/><circle cx="667.24" cy="123.31" r="3.91"/><circle cx="664.82" cy="120.55" r="4.02"/></g><path d="M665.97,119.86 Q666.89,116.64 670.69,116.41" fill="none" stroke="#2f5078" stroke-width="1.5" stroke-linecap="round"/></g>
<g><g fill="#2f5078" stroke="#2f5078" stroke-width="3.0"><circle cx="684.78" cy="117.30" r="4.30"/><circle cx="696.78" cy="109.90" r="5.20"/><circle cx="707.58" cy="114.20" r="5.30"/><circle cx="692.38" cy="117.00" r="5.00"/><circle cx="700.38" cy="118.00" r="5.00"/></g><g fill="#d3d3d3"><circle cx="684.78" cy="117.30" r="4.30"/><circle cx="696.78" cy="109.90" r="5.20"/><circle cx="707.58" cy="114.20" r="5.30"/><circle cx="692.38" cy="117.00" r="5.00"/><circle cx="700.38" cy="118.00" r="5.00"/></g><g fill="#2f5078" stroke="#2f5078" stroke-width="3.0"><circle cx="692.78" cy="119.90" r="3.10"/><circle cx="699.48" cy="116.30" r="3.80"/><circle cx="706.88" cy="120.20" r="3.70"/><circle cx="696.88" cy="121.60" r="3.30"/><circle cx="702.58" cy="121.80" r="3.30"/><circle cx="699.88" cy="119.50" r="3.50"/></g><g fill="#ffffff"><circle cx="692.78" cy="119.90" r="3.10"/><circle cx="699.48" cy="116.30" r="3.80"/><circle cx="706.88" cy="120.20" r="3.70"/><circle cx="696.88" cy="121.60" r="3.30"/><circle cx="702.58" cy="121.80" r="3.30"/><circle cx="699.88" cy="119.50" r="3.50"/></g><path d="M700.38,119.6 Q700.98,116.9 704.58,116.2" fill="none" stroke="#2f5078" stroke-width="1.5" stroke-linecap="round"/></g>
<g><g fill="#2c5fb5" stroke="#2c5fb5" stroke-width="3.0"><circle cx="719.31" cy="117.30" r="4.30"/><circle cx="731.31" cy="109.90" r="5.20"/><circle cx="742.11" cy="114.20" r="5.30"/><circle cx="726.91" cy="117.00" r="5.00"/><circle cx="734.91" cy="118.00" r="5.00"/></g><g fill="#d3d3d3"><circle cx="719.31" cy="117.30" r="4.30"/><circle cx="731.31" cy="109.90" r="5.20"/><circle cx="742.11" cy="114.20" r="5.30"/><circle cx="726.91" cy="117.00" r="5.00"/><circle cx="734.91" cy="118.00" r="5.00"/></g><g fill="#2c5fb5" stroke="#2c5fb5" stroke-width="3.0"><circle cx="727.31" cy="119.90" r="3.10"/><circle cx="734.01" cy="116.30" r="3.80"/><circle cx="741.41" cy="120.20" r="3.70"/><circle cx="731.41" cy="121.60" r="3.30"/><circle cx="737.11" cy="121.80" r="3.30"/><circle cx="734.41" cy="119.50" r="3.50"/></g><g fill="#ffffff"><circle cx="727.31" cy="119.90" r="3.10"/><circle cx="734.01" cy="116.30" r="3.80"/><circle cx="741.41" cy="120.20" r="3.70"/><circle cx="731.41" cy="121.60" r="3.30"/><circle cx="737.11" cy="121.80" r="3.30"/><circle cx="734.41" cy="119.50" r="3.50"/></g><path d="M734.91,119.6 Q735.51,116.9 739.11,116.2" fill="none" stroke="#2c5fb5" stroke-width="1.5" stroke-linecap="round"/></g>
<g><g fill="#2c5fb5" stroke="#2c5fb5" stroke-width="3.0"><circle cx="753.84" cy="117.30" r="4.30"/><circle cx="765.84" cy="109.90" r="5.20"/><circle cx="776.64" cy="114.20" r="5.30"/><circle cx="761.44" cy="117.00" r="5.00"/><circle cx="769.44" cy="118.00" r="5.00"/></g><g fill="#d3d3d3"><circle cx="753.84" cy="117.30" r="4.30"/><circle cx="765.84" cy="109.90" r="5.20"/><circle cx="776.64" cy="114.20" r="5.30"/><circle cx="761.44" cy="117.00" r="5.00"/><circle cx="769.44" cy="118.00" r="5.00"/></g><g fill="#2c5fb5" stroke="#2c5fb5" stroke-width="3.0"><circle cx="761.84" cy="119.90" r="3.10"/><circle cx="768.54" cy="116.30" r="3.80"/><circle cx="775.94" cy="120.20" r="3.70"/><circle cx="765.94" cy="121.60" r="3.30"/><circle cx="771.64" cy="121.80" r="3.30"/><circle cx="768.94" cy="119.50" r="3.50"/></g><g fill="#ffffff"><circle cx="761.84" cy="119.90" r="3.10"/><circle cx="768.54" cy="116.30" r="3.80"/><circle cx="775.94" cy="120.20" r="3.70"/><circle cx="765.94" cy="121.60" r="3.30"/><circle cx="771.64" cy="121.80" r="3.30"/><circle cx="768.94" cy="119.50" r="3.50"/></g><path d="M769.44,119.6 Q770.04,116.9 773.64,116.2" fill="none" stroke="#2c5fb5" stroke-width="1.5" stroke-linecap="round"/></g>
<g><g fill="#2f5078" stroke="#2f5078" stroke-width="3.0"><circle cx="788.38" cy="117.30" r="4.30"/><circle cx="800.38" cy="109.90" r="5.20"/><circle cx="811.18" cy="114.20" r="5.30"/><circle cx="795.98" cy="117.00" r="5.00"/><circle cx="803.98" cy="118.00" r="5.00"/></g><g fill="#d3d3d3"><circle cx="788.38" cy="117.30" r="4.30"/><circle cx="800.38" cy="109.90" r="5.20"/><circle cx="811.18" cy="114.20" r="5.30"/><circle cx="795.98" cy="117.00" r="5.00"/><circle cx="803.98" cy="118.00" r="5.00"/></g><g fill="#2f5078" stroke="#2f5078" stroke-width="3.0"><circle cx="796.38" cy="119.90" r="3.10"/><circle cx="803.08" cy="116.30" r="3.80"/><circle cx="810.48" cy="120.20" r="3.70"/><circle cx="800.48" cy="121.60" r="3.30"/><circle cx="806.18" cy="121.80" r="3.30"/><circle cx="803.48" cy="119.50" r="3.50"/></g><g fill="#ffffff"><circle cx="796.38" cy="119.90" r="3.10"/><circle cx="803.08" cy="116.30" r="3.80"/><circle cx="810.48" cy="120.20" r="3.70"/><circle cx="800.48" cy="121.60" r="3.30"/><circle cx="806.18" cy="121.80" r="3.30"/><circle cx="803.48" cy="119.50" r="3.50"/></g><path d="M803.98,119.6 Q804.58,116.9 808.18,116.2" fill="none" stroke="#2f5078" stroke-width="1.5" stroke-linecap="round"/></g>
<g><g fill="#2f5078" stroke="#2f5078" stroke-width="3.0"><circle cx="822.91" cy="117.30" r="4.30"/><circle cx="834.91" cy="109.90" r="5.20"/><circle cx="845.71" cy="114.20" r="5.30"/><circle cx="830.51" cy="117.00" r="5.00"/><circle cx="838.51" cy="118.00" r="5.00"/></g><g fill="#d3d3d3"><circle cx="822.91" cy="117.30" r="4.30"/><circle cx="834.91" cy="109.90" r="5.20"/><circle cx="845.71" cy="114.20" r="5.30"/><circle cx="830.51" cy="117.00" r="5.00"/><circle cx="838.51" cy="118.00" r="5.00"/></g><g fill="#2f5078" stroke="#2f5078" stroke-width="3.0"><circle cx="830.91" cy="119.90" r="3.10"/><circle cx="837.61" cy="116.30" r="3.80"/><circle cx="845.01" cy="120.20" r="3.70"/><circle cx="835.01" cy="121.60" r="3.30"/><circle cx="840.71" cy="121.80" r="3.30"/><circle cx="838.01" cy="119.50" r="3.50"/></g><g fill="#ffffff"><circle cx="830.91" cy="119.90" r="3.10"/><circle cx="837.61" cy="116.30" r="3.80"/><circle cx="845.01" cy="120.20" r="3.70"/><circle cx="835.01" cy="121.60" r="3.30"/><circle cx="840.71" cy="121.80" r="3.30"/><circle cx="838.01" cy="119.50" r="3.50"/></g><path d="M838.51,119.6 Q839.11,116.9 842.71,116.2" fill="none" stroke="#2f5078" stroke-width="1.5" stroke-linecap="round"/></g>
<g><polygon points="872.78,105.70 873.58,100.04 875.83,100.52 874.25,106.01" fill="#f6e51f" stroke="#f4c53e" stroke-width="0.5" stroke-linejoin="round"/><polygon points="877.59,108.30 882.15,104.86 883.40,106.79 878.40,109.56" fill="#f6e51f" stroke="#f4c53e" stroke-width="0.5" stroke-linejoin="round"/><polygon points="879.14,113.54 884.80,114.34 884.32,116.59 878.83,115.01" fill="#f6e51f" stroke="#f4c53e" stroke-width="0.5" stroke-linejoin="round"/><polygon points="876.54,118.35 879.98,122.91 878.05,124.16 875.28,119.16" fill="#f6e51f" stroke="#f4c53e" stroke-width="0.5" stroke-linejoin="round"/><polygon points="871.30,119.90 870.50,125.56 868.25,125.08 869.83,119.59" fill="#f6e51f" stroke="#f4c53e" stroke-width="0.5" stroke-linejoin="round"/><polygon points="866.49,117.30 861.93,120.74 860.68,118.81 865.68,116.04" fill="#f6e51f" stroke="#f4c53e" stroke-width="0.5" stroke-linejoin="round"/><polygon points="864.94,112.06 859.28,111.26 859.76,109.01 865.25,110.59" fill="#f6e51f" stroke="#f4c53e" stroke-width="0.5" stroke-linejoin="round"/><polygon points="867.55,107.25 864.11,102.69 866.03,101.44 868.80,106.44" fill="#f6e51f" stroke="#f4c53e" stroke-width="0.5" stroke-linejoin="round"/><circle cx="872.04" cy="112.80" r="6.5" fill="#f6e51f" stroke="#f2a52a" stroke-width="0.8"/><g fill="#2c5fb5" stroke="#2c5fb5" stroke-width="2.8"><circle cx="857.84" cy="121.70" r="3.60"/><circle cx="864.24" cy="118.40" r="4.60"/><circle cx="870.14" cy="122.20" r="4.10"/><circle cx="861.14" cy="124.00" r="3.40"/><circle cx="866.14" cy="124.20" r="3.40"/><circle cx="864.04" cy="121.80" r="3.50"/></g><g fill="#d3d3d3"><circle cx="857.84" cy="121.70" r="3.60"/><circle cx="864.24" cy="118.40" r="4.60"/><circle cx="870.14" cy="122.20" r="4.10"/><circle cx="861.14" cy="124.00" r="3.40"/><circle cx="866.14" cy="124.20" r="3.40"/><circle cx="864.04" cy="121.80" r="3.50"/></g><path d="M865.04,121.20 Q865.84,118.40 869.14,118.20" fill="none" stroke="#2c5fb5" stroke-width="1.4" stroke-linecap="round"/></g>
<g><polygon points="907.32,105.70 908.11,100.04 910.36,100.52 908.78,106.01" fill="#f6e51f" stroke="#f4c53e" stroke-width="0.5" stroke-linejoin="round"/><polygon points="912.12,108.30 916.68,104.86 917.93,106.79 912.94,109.56" fill="#f6e51f" stroke="#f4c53e" stroke-width="0.5" stroke-linejoin="round"/><polygon points="913.67,113.54 919.33,114.34 918.85,116.59 913.36,115.01" fill="#f6e51f" stroke="#f4c53e" stroke-width="0.5" stroke-linejoin="round"/><polygon points="911.07,118.35 914.51,122.91 912.58,124.16 909.81,119.16" fill="#f6e51f" stroke="#f4c53e" stroke-width="0.5" stroke-linejoin="round"/><polygon points="905.83,119.90 905.04,125.56 902.79,125.08 904.36,119.59" fill="#f6e51f" stroke="#f4c53e" stroke-width="0.5" stroke-linejoin="round"/><polygon points="901.03,117.30 896.46,120.74 895.21,118.81 900.21,116.04" fill="#f6e51f" stroke="#f4c53e" stroke-width="0.5" stroke-linejoin="round"/><polygon points="899.47,112.06 893.81,111.26 894.29,109.01 899.78,110.59" fill="#f6e51f" stroke="#f4c53e" stroke-width="0.5" stroke-linejoin="round"/><polygon points="902.08,107.25 898.64,102.69 900.57,101.44 903.34,106.44" fill="#f6e51f" stroke="#f4c53e" stroke-width="0.5" stroke-linejoin="round"/><circle cx="906.57" cy="112.80" r="6.5" fill="#f6e51f" stroke="#f2a52a" stroke-width="0.8"/><g fill="#2c5fb5" stroke="#2c5fb5" stroke-width="2.8"><circle cx="892.37" cy="121.70" r="3.60"/><circle cx="898.77" cy="118.40" r="4.60"/><circle cx="904.67" cy="122.20" r="4.10"/><circle cx="895.67" cy="124.00" r="3.40"/><circle cx="900.67" cy="124.20" r="3.40"/><circle cx="898.57" cy="121.80" r="3.50"/></g><g fill="#d3d3d3"><circle cx="892.37" cy="121.70" r="3.60"/><circle cx="898.77" cy="118.40" r="4.60"/><circle cx="904.67" cy="122.20" r="4.10"/><circle cx="895.67" cy="124.00" r="3.40"/><circle cx="900.67" cy="124.20" r="3.40"/><circle cx="898.57" cy="121.80" r="3.50"/></g><path d="M899.57,121.20 Q900.37,118.40 903.67,118.20" fill="none" stroke="#2c5fb5" stroke-width="1.4" stroke-linecap="round"/></g>
<g><path d="M944.21,100.80 C932.81,102.30 926.31,110.80 932.01,120.30 C934.81,124.30 939.31,126.80 943.81,126.80 C936.31,119.80 935.31,110.30 944.21,100.80Z" fill="#fbfbfb" stroke="#000" stroke-width="1.45" stroke-linejoin="round"/><rect x="920.51" y="115.00" width="36.70" height="1.6" fill="#2b4d7a"/><rect x="920.91" y="117.70" width="35.10" height="1.6" fill="#2b4d7a"/><rect x="923.61" y="122.10" width="30.90" height="2.8" fill="#2b4d7a"/></g>
<g><path d="M978.74,100.80 C967.34,102.30 960.84,110.80 966.54,120.30 C969.34,124.30 973.84,126.80 978.34,126.80 C970.84,119.80 969.84,110.30 978.74,100.80Z" fill="#fbfbfb" stroke="#000" stroke-width="1.45" stroke-linejoin="round"/><rect x="955.04" y="115.00" width="36.70" height="1.6" fill="#2b4d7a"/><rect x="955.44" y="117.70" width="35.10" height="1.6" fill="#2b4d7a"/><rect x="958.14" y="122.10" width="30.90" height="2.8" fill="#2b4d7a"/></g>
<g><clipPath id="c1008"><rect x="986.2" y="97" width="44" height="20.3"/></clipPath><g clip-path="url(#c1008)"><polygon points="1008.45,105.90 1009.25,100.24 1011.50,100.72 1009.92,106.22" fill="#f6e51f" stroke="#f4c53e" stroke-width="0.5" stroke-linejoin="round"/><polygon points="1013.38,108.60 1017.95,105.16 1019.20,107.08 1014.20,109.85" fill="#f6e51f" stroke="#f4c53e" stroke-width="0.5" stroke-linejoin="round"/><polygon points="1014.97,113.98 1020.62,114.78 1020.15,117.03 1014.65,115.45" fill="#f6e51f" stroke="#f4c53e" stroke-width="0.5" stroke-linejoin="round"/><polygon points="1012.27,118.91 1015.71,123.48 1013.79,124.73 1011.02,119.73" fill="#f6e51f" stroke="#f4c53e" stroke-width="0.5" stroke-linejoin="round"/><polygon points="1006.89,120.50 1006.09,126.16 1003.84,125.68 1005.42,120.18" fill="#f6e51f" stroke="#f4c53e" stroke-width="0.5" stroke-linejoin="round"/><polygon points="1001.96,117.80 997.39,121.24 996.14,119.32 1001.14,116.55" fill="#f6e51f" stroke="#f4c53e" stroke-width="0.5" stroke-linejoin="round"/><polygon points="1000.37,112.42 994.71,111.62 995.19,109.37 1000.69,110.95" fill="#f6e51f" stroke="#f4c53e" stroke-width="0.5" stroke-linejoin="round"/><polygon points="1003.06,107.49 999.62,102.92 1001.55,101.67 1004.32,106.67" fill="#f6e51f" stroke="#f4c53e" stroke-width="0.5" stroke-linejoin="round"/><circle cx="1007.67" cy="113.20" r="6.7" fill="#f6e51f" stroke="#f2a52a" stroke-width="0.8"/></g><rect x="996.7" y="118.9" width="3.2" height="1" fill="#f6e51f" opacity=".8"/><rect x="1005.7" y="118.9" width="7.5" height="1.1" fill="#f6e51f" opacity=".8"/><rect x="1004.6" y="122.4" width="2.4" height="1.2" fill="#f6e51f" opacity=".7"/><rect x="1013.6" y="122.4" width="2.4" height="1.2" fill="#f6e51f" opacity=".7"/><rect x="989.47" y="116.40" width="36.80" height="2.3" fill="#4d7ec6"/><rect x="990.67" y="120.10" width="34.70" height="2.0" fill="#4d7ec6"/><rect x="992.67" y="124.30" width="31.60" height="3.1" fill="#4d7ec6"/></g>
<g><polygon points="1040.04,106.10 1040.84,100.44 1043.09,100.92 1041.51,106.41" fill="#f6e51f" stroke="#f4c53e" stroke-width="0.5" stroke-linejoin="round"/><polygon points="1044.85,108.70 1049.41,105.26 1050.66,107.19 1045.66,109.96" fill="#f6e51f" stroke="#f4c53e" stroke-width="0.5" stroke-linejoin="round"/><polygon points="1046.40,113.94 1052.06,114.74 1051.58,116.99 1046.09,115.41" fill="#f6e51f" stroke="#f4c53e" stroke-width="0.5" stroke-linejoin="round"/><polygon points="1043.80,118.75 1047.24,123.31 1045.31,124.56 1042.54,119.56" fill="#f6e51f" stroke="#f4c53e" stroke-width="0.5" stroke-linejoin="round"/><polygon points="1038.56,120.30 1037.77,125.96 1035.52,125.48 1037.09,119.99" fill="#f6e51f" stroke="#f4c53e" stroke-width="0.5" stroke-linejoin="round"/><polygon points="1033.76,117.70 1029.19,121.14 1027.94,119.21 1032.94,116.44" fill="#f6e51f" stroke="#f4c53e" stroke-width="0.5" stroke-linejoin="round"/><polygon points="1032.20,112.46 1026.54,111.66 1027.02,109.41 1032.51,110.99" fill="#f6e51f" stroke="#f4c53e" stroke-width="0.5" stroke-linejoin="round"/><polygon points="1034.81,107.65 1031.37,103.09 1033.29,101.84 1036.06,106.84" fill="#f6e51f" stroke="#f4c53e" stroke-width="0.5" stroke-linejoin="round"/><circle cx="1039.30" cy="113.20" r="6.5" fill="#f6e51f" stroke="#f2a52a" stroke-width="0.8"/><g fill="#2c5fb5" stroke="#2c5fb5" stroke-width="3.2"><circle cx="1042.44" cy="120.12" r="2.88"/><circle cx="1047.56" cy="117.48" r="3.68"/><circle cx="1052.28" cy="120.52" r="3.28"/><circle cx="1045.08" cy="121.96" r="2.72"/><circle cx="1049.08" cy="122.12" r="2.72"/><circle cx="1047.40" cy="120.20" r="2.80"/></g><g fill="#ffffff"><circle cx="1042.44" cy="120.12" r="2.88"/><circle cx="1047.56" cy="117.48" r="3.68"/><circle cx="1052.28" cy="120.52" r="3.28"/><circle cx="1045.08" cy="121.96" r="2.72"/><circle cx="1049.08" cy="122.12" r="2.72"/><circle cx="1047.40" cy="120.20" r="2.80"/></g><path d="M1048.20,119.72 Q1048.84,117.48 1051.48,117.32" fill="none" stroke="#2c5fb5" stroke-width="1.6" stroke-linecap="round"/></g>
<g><path d="M1080.13,100.60 C1068.73,102.10 1062.23,110.60 1067.93,120.10 C1070.73,124.10 1075.23,126.60 1079.73,126.60 C1072.23,119.60 1071.23,110.10 1080.13,100.60Z" fill="#fbfbfb" stroke="#000" stroke-width="1.45" stroke-linejoin="round"/><g fill="#2f5078" stroke="#2f5078" stroke-width="3.0"><circle cx="1075.30" cy="121.59" r="2.99"/><circle cx="1080.61" cy="118.85" r="3.82"/><circle cx="1085.51" cy="122.00" r="3.40"/><circle cx="1078.04" cy="123.50" r="2.82"/><circle cx="1082.19" cy="123.66" r="2.82"/><circle cx="1080.45" cy="121.67" r="2.90"/></g><g fill="#d3d3d3"><circle cx="1075.30" cy="121.59" r="2.99"/><circle cx="1080.61" cy="118.85" r="3.82"/><circle cx="1085.51" cy="122.00" r="3.40"/><circle cx="1078.04" cy="123.50" r="2.82"/><circle cx="1082.19" cy="123.66" r="2.82"/><circle cx="1080.45" cy="121.67" r="2.90"/></g><path d="M1081.28,121.17 Q1081.94,118.85 1084.68,118.68" fill="none" stroke="#2f5078" stroke-width="1.5" stroke-linecap="round"/></g>

<g fill="none" stroke="#000" stroke-linecap="round"><circle cx="127.10" cy="153.1" r="3.6" stroke-width="2.1"/><circle cx="144.37" cy="153.1" r="3.6" stroke-width="2.1"/><circle cx="161.63" cy="153.1" r="3.6" stroke-width="2.1"/><circle cx="178.90" cy="153.1" r="3.6" stroke-width="2.1"/><circle cx="196.16" cy="153.1" r="3.6" stroke-width="2.1"/><circle cx="213.43" cy="153.1" r="3.6" stroke-width="2.1"/><circle cx="230.70" cy="153.1" r="3.6" stroke-width="2.1"/><circle cx="247.96" cy="153.1" r="3.6" stroke-width="2.1"/><circle cx="265.23" cy="153.1" r="3.6" stroke-width="2.1"/><circle cx="282.49" cy="153.1" r="3.6" stroke-width="2.1"/><circle cx="299.76" cy="153.1" r="3.6" stroke-width="2.1"/><circle cx="317.03" cy="153.1" r="3.6" stroke-width="2.1"/><circle cx="334.29" cy="153.1" r="3.6" stroke-width="2.1"/><line x1="339.6" y1="157.1" x2="362.9" y2="148.8" stroke-width="1.9"/><line x1="359.3" y1="151.2" x2="361.7" y2="155.4" stroke-width="1.9"/><circle cx="368.83" cy="153.1" r="3.6" stroke-width="2.1"/><circle cx="386.09" cy="153.1" r="3.6" stroke-width="2.1"/><circle cx="403.36" cy="153.1" r="3.6" stroke-width="2.1"/><circle cx="420.62" cy="153.1" r="3.6" stroke-width="2.1"/><circle cx="437.89" cy="153.1" r="3.6" stroke-width="2.1"/><circle cx="455.16" cy="153.1" r="3.6" stroke-width="2.1"/><circle cx="472.42" cy="153.1" r="3.6" stroke-width="2.1"/><line x1="478.2" y1="158.2" x2="500.9" y2="147.9" stroke-width="1.9"/><line x1="497.3" y1="150" x2="500.2" y2="154.4" stroke-width="1.9"/><line x1="495.5" y1="158.8" x2="518.4" y2="147.3" stroke-width="1.9"/><line x1="514.3" y1="149.7" x2="517.3" y2="153" stroke-width="1.9"/><circle cx="524.22" cy="153.1" r="3.6" stroke-width="2.1"/><circle cx="541.49" cy="153.1" r="3.6" stroke-width="2.1"/><circle cx="558.75" cy="153.1" r="3.6" stroke-width="2.1"/><circle cx="576.02" cy="153.1" r="3.6" stroke-width="2.1"/><circle cx="593.28" cy="153.1" r="3.6" stroke-width="2.1"/><circle cx="610.55" cy="153.1" r="3.6" stroke-width="2.1"/><line x1="615.3" y1="155" x2="639.3" y2="150.9" stroke-width="1.9"/><line x1="636.1" y1="152" x2="638.2" y2="156.4" stroke-width="1.9"/><circle cx="645.08" cy="153.1" r="3.6" stroke-width="2.1"/><circle cx="662.35" cy="153.1" r="3.6" stroke-width="2.1"/><circle cx="679.61" cy="153.1" r="3.6" stroke-width="2.1"/><circle cx="696.88" cy="153.1" r="3.6" stroke-width="2.1"/><circle cx="714.15" cy="153.1" r="3.6" stroke-width="2.1"/><circle cx="731.41" cy="153.1" r="3.6" stroke-width="2.1"/><circle cx="748.68" cy="153.1" r="3.6" stroke-width="2.1"/><circle cx="765.94" cy="153.1" r="3.6" stroke-width="2.1"/><circle cx="783.21" cy="153.1" r="3.6" stroke-width="2.1"/><circle cx="800.48" cy="153.1" r="3.6" stroke-width="2.1"/><circle cx="817.74" cy="153.1" r="3.6" stroke-width="2.1"/><circle cx="835.01" cy="153.1" r="3.6" stroke-width="2.1"/><circle cx="852.28" cy="153.1" r="3.6" stroke-width="2.1"/><circle cx="869.54" cy="153.1" r="3.6" stroke-width="2.1"/><circle cx="886.81" cy="153.1" r="3.6" stroke-width="2.1"/><circle cx="904.07" cy="153.1" r="3.6" stroke-width="2.1"/><circle cx="921.34" cy="153.1" r="3.6" stroke-width="2.1"/><circle cx="938.61" cy="153.1" r="3.6" stroke-width="2.1"/><circle cx="955.87" cy="153.1" r="3.6" stroke-width="2.1"/><circle cx="973.14" cy="153.1" r="3.6" stroke-width="2.1"/><circle cx="990.40" cy="153.1" r="3.6" stroke-width="2.1"/><circle cx="1007.67" cy="153.1" r="3.6" stroke-width="2.1"/><circle cx="1024.94" cy="153.1" r="3.6" stroke-width="2.1"/><line x1="1035.6" y1="163.3" x2="1049.5" y2="142.7" stroke-width="1.9"/><line x1="1037.7" y1="159.5" x2="1033.2" y2="157.4" stroke-width="1.9"/><line x1="1053.3" y1="163.3" x2="1066.7" y2="142.5" stroke-width="1.9"/><line x1="1055.3" y1="159.9" x2="1050.6" y2="158" stroke-width="1.9"/><circle cx="1076.73" cy="153.1" r="3.6" stroke-width="2.1"/><circle cx="1094.00" cy="153.1" r="3.6" stroke-width="2.1"/></g>
</svg>
</body></html>
